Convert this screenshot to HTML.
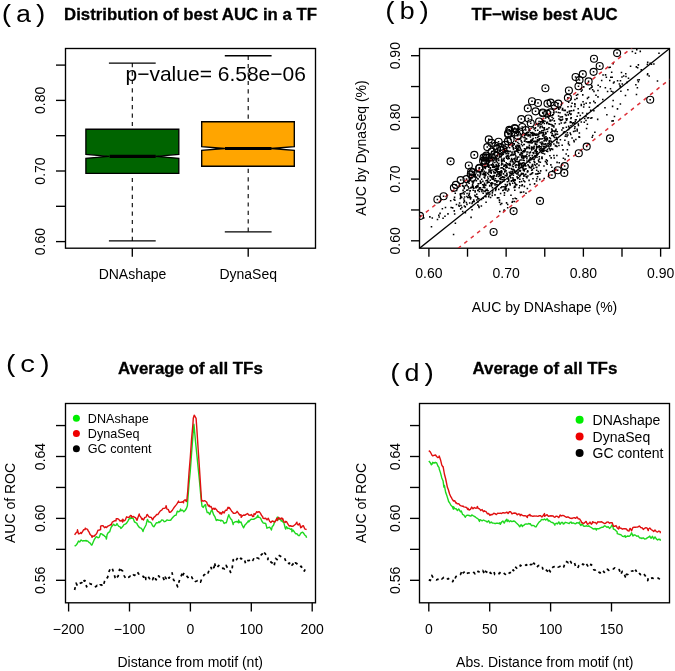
<!DOCTYPE html>
<html><head><meta charset="utf-8"><style>html,body{margin:0;padding:0;background:#fff;}svg{display:block;will-change:transform;}</style></head>
<body><svg width="675" height="671" viewBox="0 0 675 671">
<rect width="675" height="671" fill="#fff"/>
<rect x="65.5" y="48.5" width="250.0" height="199.7" fill="none" stroke="#000" stroke-width="1.35"/>
<line x1="56.00" y1="241.60" x2="65.50" y2="241.60" stroke="#000" stroke-width="1.35"/>
<line x1="56.00" y1="206.30" x2="65.50" y2="206.30" stroke="#000" stroke-width="1.35"/>
<line x1="56.00" y1="171.00" x2="65.50" y2="171.00" stroke="#000" stroke-width="1.35"/>
<line x1="56.00" y1="135.70" x2="65.50" y2="135.70" stroke="#000" stroke-width="1.35"/>
<line x1="56.00" y1="100.40" x2="65.50" y2="100.40" stroke="#000" stroke-width="1.35"/>
<line x1="56.00" y1="65.10" x2="65.50" y2="65.10" stroke="#000" stroke-width="1.35"/>
<text x="0" y="0" transform="translate(45.40,241.60) rotate(-90)" font-size="14" font-weight="normal" text-anchor="middle" font-family='"Liberation Sans", sans-serif' fill="#000">0.60</text>
<text x="0" y="0" transform="translate(45.40,171.00) rotate(-90)" font-size="14" font-weight="normal" text-anchor="middle" font-family='"Liberation Sans", sans-serif' fill="#000">0.70</text>
<text x="0" y="0" transform="translate(45.40,100.40) rotate(-90)" font-size="14" font-weight="normal" text-anchor="middle" font-family='"Liberation Sans", sans-serif' fill="#000">0.80</text>
<line x1="132.30" y1="248.00" x2="132.30" y2="256.70" stroke="#000" stroke-width="1.35"/>
<line x1="248.20" y1="248.00" x2="248.20" y2="256.70" stroke="#000" stroke-width="1.35"/>
<text x="132.50" y="278.60" font-size="14" font-weight="normal" text-anchor="middle" font-family='"Liberation Sans", sans-serif' fill="#000">DNAshape</text>
<text x="248.20" y="278.60" font-size="14" font-weight="normal" text-anchor="middle" font-family='"Liberation Sans", sans-serif' fill="#000">DynaSeq</text>
<line x1="132.30" y1="63.10" x2="132.30" y2="129.20" stroke="#000" stroke-width="1.1" stroke-dasharray="4.2 4.2"/>
<line x1="132.30" y1="240.90" x2="132.30" y2="173.30" stroke="#000" stroke-width="1.1" stroke-dasharray="4.2 4.2"/>
<line x1="108.90" y1="63.10" x2="155.70" y2="63.10" stroke="#000" stroke-width="1.35"/>
<line x1="108.90" y1="240.90" x2="155.70" y2="240.90" stroke="#000" stroke-width="1.35"/>
<polygon points="85.90,173.30 85.90,158.25 109.10,156.30 85.90,154.35 85.90,129.20 178.80,129.20 178.80,154.35 155.60,156.30 178.80,158.25 178.80,173.30" fill="#006400" stroke="#000" stroke-width="1.35"/>
<line x1="109.60" y1="156.30" x2="155.70" y2="156.30" stroke="#000" stroke-width="3.2"/>
<line x1="248.20" y1="55.70" x2="248.20" y2="121.70" stroke="#000" stroke-width="1.1" stroke-dasharray="4.2 4.2"/>
<line x1="248.20" y1="231.80" x2="248.20" y2="166.20" stroke="#000" stroke-width="1.1" stroke-dasharray="4.2 4.2"/>
<line x1="224.80" y1="55.70" x2="271.60" y2="55.70" stroke="#000" stroke-width="1.35"/>
<line x1="224.80" y1="231.80" x2="271.60" y2="231.80" stroke="#000" stroke-width="1.35"/>
<polygon points="201.70,166.20 201.70,150.45 224.90,148.50 201.70,146.55 201.70,121.70 294.30,121.70 294.30,146.55 271.10,148.50 294.30,150.45 294.30,166.20" fill="#FFA500" stroke="#000" stroke-width="1.35"/>
<line x1="225.00" y1="148.50" x2="271.50" y2="148.50" stroke="#000" stroke-width="3.2"/>
<text x="190.50" y="20.00" font-size="16.8" font-weight="bold" text-anchor="middle" font-family='"Liberation Sans", sans-serif' fill="#000" stroke="#000" stroke-width="0.3">Distribution of best AUC in a TF</text>
<text x="125.50" y="81.00" font-size="21" font-weight="normal" text-anchor="start" font-family='"Liberation Sans", sans-serif' fill="#000">p−value= 6.58e−06</text>
<text x="0" y="0" transform="translate(-0.90,22.30) scale(1.03,0.92)" font-size="26.5" font-family='"Liberation Mono", monospace' fill="#000">(a)</text>
<rect x="419.5" y="48.5" width="250.0" height="199.7" fill="none" stroke="#000" stroke-width="1.35"/>
<line x1="428.90" y1="248.00" x2="428.90" y2="256.70" stroke="#000" stroke-width="1.35"/>
<line x1="411.00" y1="240.80" x2="419.50" y2="240.80" stroke="#000" stroke-width="1.35"/>
<line x1="467.52" y1="248.00" x2="467.52" y2="256.70" stroke="#000" stroke-width="1.35"/>
<line x1="411.00" y1="209.95" x2="419.50" y2="209.95" stroke="#000" stroke-width="1.35"/>
<line x1="506.14" y1="248.00" x2="506.14" y2="256.70" stroke="#000" stroke-width="1.35"/>
<line x1="411.00" y1="179.10" x2="419.50" y2="179.10" stroke="#000" stroke-width="1.35"/>
<line x1="544.76" y1="248.00" x2="544.76" y2="256.70" stroke="#000" stroke-width="1.35"/>
<line x1="411.00" y1="148.25" x2="419.50" y2="148.25" stroke="#000" stroke-width="1.35"/>
<line x1="583.38" y1="248.00" x2="583.38" y2="256.70" stroke="#000" stroke-width="1.35"/>
<line x1="411.00" y1="117.40" x2="419.50" y2="117.40" stroke="#000" stroke-width="1.35"/>
<line x1="622.00" y1="248.00" x2="622.00" y2="256.70" stroke="#000" stroke-width="1.35"/>
<line x1="411.00" y1="86.55" x2="419.50" y2="86.55" stroke="#000" stroke-width="1.35"/>
<line x1="660.62" y1="248.00" x2="660.62" y2="256.70" stroke="#000" stroke-width="1.35"/>
<line x1="411.00" y1="55.70" x2="419.50" y2="55.70" stroke="#000" stroke-width="1.35"/>
<text x="428.90" y="278.20" font-size="14" font-weight="normal" text-anchor="middle" font-family='"Liberation Sans", sans-serif' fill="#000">0.60</text>
<text x="0" y="0" transform="translate(400.30,240.80) rotate(-90)" font-size="14" font-weight="normal" text-anchor="middle" font-family='"Liberation Sans", sans-serif' fill="#000">0.60</text>
<text x="506.14" y="278.20" font-size="14" font-weight="normal" text-anchor="middle" font-family='"Liberation Sans", sans-serif' fill="#000">0.70</text>
<text x="0" y="0" transform="translate(400.30,179.10) rotate(-90)" font-size="14" font-weight="normal" text-anchor="middle" font-family='"Liberation Sans", sans-serif' fill="#000">0.70</text>
<text x="583.38" y="278.20" font-size="14" font-weight="normal" text-anchor="middle" font-family='"Liberation Sans", sans-serif' fill="#000">0.80</text>
<text x="0" y="0" transform="translate(400.30,117.40) rotate(-90)" font-size="14" font-weight="normal" text-anchor="middle" font-family='"Liberation Sans", sans-serif' fill="#000">0.80</text>
<text x="660.62" y="278.20" font-size="14" font-weight="normal" text-anchor="middle" font-family='"Liberation Sans", sans-serif' fill="#000">0.90</text>
<text x="0" y="0" transform="translate(400.30,55.70) rotate(-90)" font-size="14" font-weight="normal" text-anchor="middle" font-family='"Liberation Sans", sans-serif' fill="#000">0.90</text>
<text x="544.50" y="312.20" font-size="14" font-weight="normal" text-anchor="middle" font-family='"Liberation Sans", sans-serif' fill="#000">AUC by DNAshape (%)</text>
<text x="0" y="0" transform="translate(366.00,148.00) rotate(-90)" font-size="14" font-weight="normal" text-anchor="middle" font-family='"Liberation Sans", sans-serif' fill="#000">AUC by DynaSeq (%)</text>
<text x="544.50" y="19.60" font-size="16.8" font-weight="bold" text-anchor="middle" font-family='"Liberation Sans", sans-serif' fill="#000" stroke="#000" stroke-width="0.3">TF−wise best AUC</text>
<text x="0" y="0" transform="translate(382.60,19.20) scale(1.03,0.92)" font-size="26.5" font-family='"Liberation Mono", monospace' fill="#000">(b)</text>
<defs><clipPath id="cb"><rect x="419.5" y="48.5" width="250" height="199.5"/></clipPath></defs>
<g clip-path="url(#cb)">
<path d="M552.8 134.7h1.55v1.55h-1.55zM511.0 180.0h1.55v1.55h-1.55zM506.5 163.1h1.55v1.55h-1.55zM531.4 139.4h1.55v1.55h-1.55zM500.7 170.1h1.55v1.55h-1.55zM483.0 184.4h1.55v1.55h-1.55zM485.3 201.4h1.55v1.55h-1.55zM493.4 166.5h1.55v1.55h-1.55zM477.0 204.2h1.55v1.55h-1.55zM585.4 102.5h1.55v1.55h-1.55zM510.5 180.2h1.55v1.55h-1.55zM585.2 119.7h1.55v1.55h-1.55zM497.7 171.0h1.55v1.55h-1.55zM523.2 151.1h1.55v1.55h-1.55zM497.2 165.3h1.55v1.55h-1.55zM531.6 131.8h1.55v1.55h-1.55zM482.1 173.4h1.55v1.55h-1.55zM535.6 144.0h1.55v1.55h-1.55zM577.5 123.2h1.55v1.55h-1.55zM520.4 152.1h1.55v1.55h-1.55zM508.3 167.4h1.55v1.55h-1.55zM502.8 173.3h1.55v1.55h-1.55zM567.6 155.1h1.55v1.55h-1.55zM640.5 69.1h1.55v1.55h-1.55zM553.8 136.8h1.55v1.55h-1.55zM555.1 130.1h1.55v1.55h-1.55zM492.8 170.8h1.55v1.55h-1.55zM546.0 122.7h1.55v1.55h-1.55zM553.0 135.8h1.55v1.55h-1.55zM520.7 143.4h1.55v1.55h-1.55zM528.3 179.6h1.55v1.55h-1.55zM591.1 116.9h1.55v1.55h-1.55zM569.4 132.3h1.55v1.55h-1.55zM548.8 123.5h1.55v1.55h-1.55zM516.4 144.6h1.55v1.55h-1.55zM498.5 172.7h1.55v1.55h-1.55zM495.3 165.2h1.55v1.55h-1.55zM541.8 134.4h1.55v1.55h-1.55zM515.0 160.8h1.55v1.55h-1.55zM492.1 166.3h1.55v1.55h-1.55zM539.1 172.4h1.55v1.55h-1.55zM574.2 98.8h1.55v1.55h-1.55zM562.6 127.2h1.55v1.55h-1.55zM608.2 66.8h1.55v1.55h-1.55zM519.7 169.7h1.55v1.55h-1.55zM541.7 137.9h1.55v1.55h-1.55zM526.2 160.3h1.55v1.55h-1.55zM602.0 98.8h1.55v1.55h-1.55zM491.0 183.0h1.55v1.55h-1.55zM506.3 184.8h1.55v1.55h-1.55zM531.3 157.8h1.55v1.55h-1.55zM552.6 130.2h1.55v1.55h-1.55zM508.2 155.4h1.55v1.55h-1.55zM517.7 177.0h1.55v1.55h-1.55zM596.9 105.2h1.55v1.55h-1.55zM538.7 148.6h1.55v1.55h-1.55zM468.4 193.5h1.55v1.55h-1.55zM481.1 169.1h1.55v1.55h-1.55zM529.1 158.2h1.55v1.55h-1.55zM580.5 90.5h1.55v1.55h-1.55zM491.1 164.5h1.55v1.55h-1.55zM540.7 147.3h1.55v1.55h-1.55zM487.2 163.3h1.55v1.55h-1.55zM491.5 194.6h1.55v1.55h-1.55zM498.9 171.2h1.55v1.55h-1.55zM470.3 216.6h1.55v1.55h-1.55zM542.0 142.4h1.55v1.55h-1.55zM498.6 199.2h1.55v1.55h-1.55zM498.8 201.4h1.55v1.55h-1.55zM537.5 133.8h1.55v1.55h-1.55zM512.2 179.3h1.55v1.55h-1.55zM548.4 147.5h1.55v1.55h-1.55zM577.8 112.1h1.55v1.55h-1.55zM489.5 179.5h1.55v1.55h-1.55zM519.0 154.0h1.55v1.55h-1.55zM589.2 102.1h1.55v1.55h-1.55zM505.8 202.1h1.55v1.55h-1.55zM506.0 175.3h1.55v1.55h-1.55zM481.6 189.0h1.55v1.55h-1.55zM545.3 132.5h1.55v1.55h-1.55zM519.7 154.3h1.55v1.55h-1.55zM491.3 169.2h1.55v1.55h-1.55zM531.9 158.3h1.55v1.55h-1.55zM493.3 172.2h1.55v1.55h-1.55zM520.4 140.1h1.55v1.55h-1.55zM429.1 216.1h1.55v1.55h-1.55zM522.6 172.7h1.55v1.55h-1.55zM523.6 185.6h1.55v1.55h-1.55zM544.8 131.8h1.55v1.55h-1.55zM516.4 156.5h1.55v1.55h-1.55zM563.7 122.3h1.55v1.55h-1.55zM522.3 159.4h1.55v1.55h-1.55zM537.3 125.3h1.55v1.55h-1.55zM536.8 145.9h1.55v1.55h-1.55zM472.4 189.5h1.55v1.55h-1.55zM577.7 124.8h1.55v1.55h-1.55zM533.9 155.3h1.55v1.55h-1.55zM520.8 172.6h1.55v1.55h-1.55zM502.6 172.9h1.55v1.55h-1.55zM460.5 192.9h1.55v1.55h-1.55zM508.0 189.0h1.55v1.55h-1.55zM552.8 111.8h1.55v1.55h-1.55zM503.8 176.5h1.55v1.55h-1.55zM531.4 142.0h1.55v1.55h-1.55zM514.4 159.8h1.55v1.55h-1.55zM519.0 146.2h1.55v1.55h-1.55zM495.0 168.2h1.55v1.55h-1.55zM529.2 183.7h1.55v1.55h-1.55zM539.3 126.9h1.55v1.55h-1.55zM483.8 182.6h1.55v1.55h-1.55zM465.6 201.7h1.55v1.55h-1.55zM611.8 105.6h1.55v1.55h-1.55zM586.2 112.8h1.55v1.55h-1.55zM518.0 163.5h1.55v1.55h-1.55zM578.8 136.4h1.55v1.55h-1.55zM490.2 169.8h1.55v1.55h-1.55zM447.2 213.1h1.55v1.55h-1.55zM556.8 133.5h1.55v1.55h-1.55zM549.1 154.9h1.55v1.55h-1.55zM538.2 132.2h1.55v1.55h-1.55zM597.4 84.4h1.55v1.55h-1.55zM512.5 166.0h1.55v1.55h-1.55zM529.6 141.9h1.55v1.55h-1.55zM553.1 126.3h1.55v1.55h-1.55zM523.9 133.6h1.55v1.55h-1.55zM501.4 160.1h1.55v1.55h-1.55zM467.0 196.7h1.55v1.55h-1.55zM517.3 172.1h1.55v1.55h-1.55zM496.5 185.4h1.55v1.55h-1.55zM498.8 199.4h1.55v1.55h-1.55zM512.5 178.6h1.55v1.55h-1.55zM556.5 130.9h1.55v1.55h-1.55zM533.5 147.3h1.55v1.55h-1.55zM538.1 161.0h1.55v1.55h-1.55zM542.3 119.9h1.55v1.55h-1.55zM538.5 172.5h1.55v1.55h-1.55zM494.2 194.1h1.55v1.55h-1.55zM482.3 168.7h1.55v1.55h-1.55zM493.9 179.9h1.55v1.55h-1.55zM556.2 141.9h1.55v1.55h-1.55zM533.4 158.4h1.55v1.55h-1.55zM499.8 192.7h1.55v1.55h-1.55zM561.1 129.2h1.55v1.55h-1.55zM534.8 140.5h1.55v1.55h-1.55zM558.2 144.7h1.55v1.55h-1.55zM461.1 206.7h1.55v1.55h-1.55zM538.6 158.3h1.55v1.55h-1.55zM532.2 165.3h1.55v1.55h-1.55zM497.5 171.0h1.55v1.55h-1.55zM461.8 182.7h1.55v1.55h-1.55zM512.1 176.9h1.55v1.55h-1.55zM512.3 161.2h1.55v1.55h-1.55zM536.1 163.2h1.55v1.55h-1.55zM517.1 171.2h1.55v1.55h-1.55zM507.7 178.0h1.55v1.55h-1.55zM495.8 160.2h1.55v1.55h-1.55zM526.2 153.4h1.55v1.55h-1.55zM500.3 174.3h1.55v1.55h-1.55zM550.1 131.8h1.55v1.55h-1.55zM522.3 177.9h1.55v1.55h-1.55zM514.4 197.4h1.55v1.55h-1.55zM546.5 137.3h1.55v1.55h-1.55zM512.7 178.4h1.55v1.55h-1.55zM470.0 187.3h1.55v1.55h-1.55zM525.9 147.6h1.55v1.55h-1.55zM511.3 151.2h1.55v1.55h-1.55zM559.7 119.8h1.55v1.55h-1.55zM556.4 138.9h1.55v1.55h-1.55zM593.2 90.6h1.55v1.55h-1.55zM475.8 176.4h1.55v1.55h-1.55zM542.6 133.1h1.55v1.55h-1.55zM541.2 141.2h1.55v1.55h-1.55zM556.1 154.7h1.55v1.55h-1.55zM518.6 160.3h1.55v1.55h-1.55zM510.6 154.1h1.55v1.55h-1.55zM544.8 117.3h1.55v1.55h-1.55zM479.6 174.1h1.55v1.55h-1.55zM544.0 129.0h1.55v1.55h-1.55zM528.6 166.7h1.55v1.55h-1.55zM564.8 121.4h1.55v1.55h-1.55zM468.0 194.7h1.55v1.55h-1.55zM503.4 209.2h1.55v1.55h-1.55zM540.2 132.2h1.55v1.55h-1.55zM539.5 125.8h1.55v1.55h-1.55zM518.1 146.1h1.55v1.55h-1.55zM612.4 62.9h1.55v1.55h-1.55zM527.3 134.6h1.55v1.55h-1.55zM519.9 138.0h1.55v1.55h-1.55zM533.4 145.4h1.55v1.55h-1.55zM597.2 96.1h1.55v1.55h-1.55zM499.1 174.3h1.55v1.55h-1.55zM495.8 158.4h1.55v1.55h-1.55zM501.0 163.1h1.55v1.55h-1.55zM531.5 154.8h1.55v1.55h-1.55zM464.2 191.0h1.55v1.55h-1.55zM568.8 112.5h1.55v1.55h-1.55zM543.2 143.5h1.55v1.55h-1.55zM525.4 133.6h1.55v1.55h-1.55zM625.0 73.0h1.55v1.55h-1.55zM554.0 131.0h1.55v1.55h-1.55zM482.9 173.9h1.55v1.55h-1.55zM485.2 196.0h1.55v1.55h-1.55zM504.4 169.3h1.55v1.55h-1.55zM534.2 150.1h1.55v1.55h-1.55zM575.4 119.0h1.55v1.55h-1.55zM545.3 135.9h1.55v1.55h-1.55zM525.2 154.9h1.55v1.55h-1.55zM486.3 189.7h1.55v1.55h-1.55zM575.6 94.5h1.55v1.55h-1.55zM535.3 152.4h1.55v1.55h-1.55zM557.8 115.3h1.55v1.55h-1.55zM477.0 174.2h1.55v1.55h-1.55zM467.9 180.5h1.55v1.55h-1.55zM484.3 172.2h1.55v1.55h-1.55zM474.3 189.9h1.55v1.55h-1.55zM463.6 205.2h1.55v1.55h-1.55zM510.0 161.0h1.55v1.55h-1.55zM491.6 192.1h1.55v1.55h-1.55zM535.5 148.7h1.55v1.55h-1.55zM509.1 174.4h1.55v1.55h-1.55zM549.4 119.2h1.55v1.55h-1.55zM508.5 157.8h1.55v1.55h-1.55zM514.5 157.3h1.55v1.55h-1.55zM519.0 175.6h1.55v1.55h-1.55zM570.1 117.6h1.55v1.55h-1.55zM532.3 132.2h1.55v1.55h-1.55zM488.3 161.7h1.55v1.55h-1.55zM543.6 146.3h1.55v1.55h-1.55zM478.6 190.7h1.55v1.55h-1.55zM465.7 183.3h1.55v1.55h-1.55zM473.3 175.5h1.55v1.55h-1.55zM506.4 155.2h1.55v1.55h-1.55zM451.9 207.1h1.55v1.55h-1.55zM512.6 153.6h1.55v1.55h-1.55zM658.2 52.4h1.55v1.55h-1.55zM504.5 183.7h1.55v1.55h-1.55zM530.2 158.9h1.55v1.55h-1.55zM519.7 191.6h1.55v1.55h-1.55zM518.4 149.4h1.55v1.55h-1.55zM534.5 143.0h1.55v1.55h-1.55zM558.2 118.2h1.55v1.55h-1.55zM489.3 175.6h1.55v1.55h-1.55zM525.3 175.8h1.55v1.55h-1.55zM523.1 174.8h1.55v1.55h-1.55zM514.7 160.5h1.55v1.55h-1.55zM522.8 164.5h1.55v1.55h-1.55zM505.1 166.9h1.55v1.55h-1.55zM576.4 130.1h1.55v1.55h-1.55zM502.6 153.5h1.55v1.55h-1.55zM499.7 170.9h1.55v1.55h-1.55zM500.1 178.8h1.55v1.55h-1.55zM478.7 187.1h1.55v1.55h-1.55zM477.1 197.7h1.55v1.55h-1.55zM574.0 103.0h1.55v1.55h-1.55zM463.5 187.8h1.55v1.55h-1.55zM458.1 204.5h1.55v1.55h-1.55zM484.9 166.1h1.55v1.55h-1.55zM541.1 149.7h1.55v1.55h-1.55zM528.7 134.6h1.55v1.55h-1.55zM586.7 97.6h1.55v1.55h-1.55zM510.2 194.5h1.55v1.55h-1.55zM480.9 178.4h1.55v1.55h-1.55zM527.7 133.8h1.55v1.55h-1.55zM550.9 128.2h1.55v1.55h-1.55zM500.7 171.6h1.55v1.55h-1.55zM571.7 123.2h1.55v1.55h-1.55zM528.3 146.2h1.55v1.55h-1.55zM472.4 186.6h1.55v1.55h-1.55zM499.0 175.3h1.55v1.55h-1.55zM497.7 168.5h1.55v1.55h-1.55zM530.8 132.8h1.55v1.55h-1.55zM543.6 137.5h1.55v1.55h-1.55zM548.1 145.7h1.55v1.55h-1.55zM536.7 141.3h1.55v1.55h-1.55zM470.6 206.0h1.55v1.55h-1.55zM569.8 113.8h1.55v1.55h-1.55zM543.2 145.4h1.55v1.55h-1.55zM484.1 173.2h1.55v1.55h-1.55zM546.5 160.1h1.55v1.55h-1.55zM513.0 180.5h1.55v1.55h-1.55zM536.0 166.6h1.55v1.55h-1.55zM529.6 134.2h1.55v1.55h-1.55zM555.2 128.4h1.55v1.55h-1.55zM471.1 186.6h1.55v1.55h-1.55zM508.6 171.4h1.55v1.55h-1.55zM525.4 134.2h1.55v1.55h-1.55zM538.3 146.6h1.55v1.55h-1.55zM612.4 120.1h1.55v1.55h-1.55zM469.9 177.5h1.55v1.55h-1.55zM519.3 146.9h1.55v1.55h-1.55zM479.1 171.9h1.55v1.55h-1.55zM492.9 178.7h1.55v1.55h-1.55zM637.6 81.0h1.55v1.55h-1.55zM501.1 186.1h1.55v1.55h-1.55zM539.0 131.0h1.55v1.55h-1.55zM518.8 145.1h1.55v1.55h-1.55zM487.5 178.0h1.55v1.55h-1.55zM522.6 169.4h1.55v1.55h-1.55zM523.1 143.8h1.55v1.55h-1.55zM528.6 140.9h1.55v1.55h-1.55zM564.5 113.8h1.55v1.55h-1.55zM541.6 150.5h1.55v1.55h-1.55zM538.2 139.7h1.55v1.55h-1.55zM594.1 131.4h1.55v1.55h-1.55zM472.8 180.9h1.55v1.55h-1.55zM505.3 170.1h1.55v1.55h-1.55zM489.8 196.7h1.55v1.55h-1.55zM476.7 196.2h1.55v1.55h-1.55zM498.0 159.6h1.55v1.55h-1.55zM552.8 135.5h1.55v1.55h-1.55zM523.5 170.1h1.55v1.55h-1.55zM529.7 131.9h1.55v1.55h-1.55zM558.5 162.0h1.55v1.55h-1.55zM539.9 146.0h1.55v1.55h-1.55zM515.1 184.1h1.55v1.55h-1.55zM501.9 176.1h1.55v1.55h-1.55zM503.0 180.5h1.55v1.55h-1.55zM649.4 62.5h1.55v1.55h-1.55zM580.5 121.3h1.55v1.55h-1.55zM537.0 153.4h1.55v1.55h-1.55zM500.2 172.0h1.55v1.55h-1.55zM528.7 152.3h1.55v1.55h-1.55zM551.7 134.4h1.55v1.55h-1.55zM439.3 212.6h1.55v1.55h-1.55zM523.7 147.9h1.55v1.55h-1.55zM507.0 150.1h1.55v1.55h-1.55zM551.4 125.1h1.55v1.55h-1.55zM495.8 165.6h1.55v1.55h-1.55zM517.1 160.9h1.55v1.55h-1.55zM571.8 122.4h1.55v1.55h-1.55zM494.8 169.8h1.55v1.55h-1.55zM531.7 139.2h1.55v1.55h-1.55zM518.1 161.9h1.55v1.55h-1.55zM579.1 118.5h1.55v1.55h-1.55zM524.3 164.8h1.55v1.55h-1.55zM506.9 206.9h1.55v1.55h-1.55zM477.4 183.1h1.55v1.55h-1.55zM567.6 143.0h1.55v1.55h-1.55zM559.3 118.7h1.55v1.55h-1.55zM595.2 94.5h1.55v1.55h-1.55zM492.6 175.3h1.55v1.55h-1.55zM635.1 84.0h1.55v1.55h-1.55zM488.9 185.3h1.55v1.55h-1.55zM517.3 148.8h1.55v1.55h-1.55zM519.3 170.5h1.55v1.55h-1.55zM500.8 159.6h1.55v1.55h-1.55zM498.9 177.9h1.55v1.55h-1.55zM531.7 156.8h1.55v1.55h-1.55zM476.1 199.2h1.55v1.55h-1.55zM438.4 216.2h1.55v1.55h-1.55zM638.5 78.9h1.55v1.55h-1.55zM520.7 155.7h1.55v1.55h-1.55zM612.4 99.7h1.55v1.55h-1.55zM549.8 120.1h1.55v1.55h-1.55zM519.0 138.4h1.55v1.55h-1.55zM517.0 141.8h1.55v1.55h-1.55zM549.0 142.3h1.55v1.55h-1.55zM483.1 190.2h1.55v1.55h-1.55zM540.0 121.1h1.55v1.55h-1.55zM477.0 189.7h1.55v1.55h-1.55zM529.6 136.2h1.55v1.55h-1.55zM516.4 158.1h1.55v1.55h-1.55zM503.6 194.4h1.55v1.55h-1.55zM505.9 157.5h1.55v1.55h-1.55zM493.5 174.7h1.55v1.55h-1.55zM475.1 186.0h1.55v1.55h-1.55zM523.8 134.9h1.55v1.55h-1.55zM549.4 115.0h1.55v1.55h-1.55zM510.9 179.9h1.55v1.55h-1.55zM546.6 143.3h1.55v1.55h-1.55zM626.3 81.6h1.55v1.55h-1.55zM550.2 123.7h1.55v1.55h-1.55zM573.7 122.6h1.55v1.55h-1.55zM486.9 164.8h1.55v1.55h-1.55zM554.2 130.3h1.55v1.55h-1.55zM518.1 142.9h1.55v1.55h-1.55zM548.2 127.0h1.55v1.55h-1.55zM517.3 147.4h1.55v1.55h-1.55zM599.5 86.0h1.55v1.55h-1.55zM604.6 86.9h1.55v1.55h-1.55zM495.3 188.3h1.55v1.55h-1.55zM557.9 107.1h1.55v1.55h-1.55zM470.5 186.6h1.55v1.55h-1.55zM509.3 163.5h1.55v1.55h-1.55zM484.0 173.9h1.55v1.55h-1.55zM548.1 117.7h1.55v1.55h-1.55zM537.5 170.7h1.55v1.55h-1.55zM514.5 147.5h1.55v1.55h-1.55zM430.7 226.0h1.55v1.55h-1.55zM554.4 123.0h1.55v1.55h-1.55zM541.3 142.5h1.55v1.55h-1.55zM548.1 123.1h1.55v1.55h-1.55zM596.9 118.6h1.55v1.55h-1.55zM552.0 113.9h1.55v1.55h-1.55zM529.2 161.8h1.55v1.55h-1.55zM542.7 150.5h1.55v1.55h-1.55zM486.3 182.3h1.55v1.55h-1.55zM656.7 80.2h1.55v1.55h-1.55zM511.3 144.6h1.55v1.55h-1.55zM495.8 186.3h1.55v1.55h-1.55zM553.1 154.8h1.55v1.55h-1.55zM532.4 134.6h1.55v1.55h-1.55zM534.3 133.2h1.55v1.55h-1.55zM514.1 151.6h1.55v1.55h-1.55zM627.7 77.4h1.55v1.55h-1.55zM555.0 168.5h1.55v1.55h-1.55zM492.2 158.1h1.55v1.55h-1.55zM542.1 135.1h1.55v1.55h-1.55zM534.4 157.0h1.55v1.55h-1.55zM582.0 94.1h1.55v1.55h-1.55zM502.8 168.4h1.55v1.55h-1.55zM477.2 201.3h1.55v1.55h-1.55zM482.4 186.7h1.55v1.55h-1.55zM513.5 142.9h1.55v1.55h-1.55zM514.8 183.2h1.55v1.55h-1.55zM556.1 141.0h1.55v1.55h-1.55zM502.0 189.8h1.55v1.55h-1.55zM505.3 153.0h1.55v1.55h-1.55zM538.1 135.5h1.55v1.55h-1.55zM492.4 175.2h1.55v1.55h-1.55zM483.6 183.7h1.55v1.55h-1.55zM517.7 174.3h1.55v1.55h-1.55zM530.6 172.9h1.55v1.55h-1.55zM500.4 156.0h1.55v1.55h-1.55zM619.3 85.1h1.55v1.55h-1.55zM496.3 165.7h1.55v1.55h-1.55zM523.0 179.9h1.55v1.55h-1.55zM530.9 142.3h1.55v1.55h-1.55zM551.1 166.4h1.55v1.55h-1.55zM549.5 149.6h1.55v1.55h-1.55zM519.5 174.5h1.55v1.55h-1.55zM518.3 165.1h1.55v1.55h-1.55zM567.8 128.8h1.55v1.55h-1.55zM526.9 151.3h1.55v1.55h-1.55zM477.3 189.6h1.55v1.55h-1.55zM604.2 106.9h1.55v1.55h-1.55zM512.3 168.6h1.55v1.55h-1.55zM472.9 187.4h1.55v1.55h-1.55zM610.0 76.4h1.55v1.55h-1.55zM557.9 142.2h1.55v1.55h-1.55zM513.3 162.6h1.55v1.55h-1.55zM530.8 173.3h1.55v1.55h-1.55zM590.4 87.0h1.55v1.55h-1.55zM478.9 176.1h1.55v1.55h-1.55zM467.0 180.2h1.55v1.55h-1.55zM511.5 159.1h1.55v1.55h-1.55zM555.2 145.0h1.55v1.55h-1.55zM605.6 76.4h1.55v1.55h-1.55zM463.4 193.3h1.55v1.55h-1.55zM511.2 152.2h1.55v1.55h-1.55zM520.8 153.2h1.55v1.55h-1.55zM561.4 144.5h1.55v1.55h-1.55zM537.0 129.5h1.55v1.55h-1.55zM505.9 165.1h1.55v1.55h-1.55zM483.3 166.8h1.55v1.55h-1.55zM524.6 137.3h1.55v1.55h-1.55zM501.8 167.3h1.55v1.55h-1.55zM477.1 185.1h1.55v1.55h-1.55zM471.9 201.1h1.55v1.55h-1.55zM538.4 138.7h1.55v1.55h-1.55zM567.7 141.3h1.55v1.55h-1.55zM549.8 145.1h1.55v1.55h-1.55zM544.7 143.1h1.55v1.55h-1.55zM504.0 186.2h1.55v1.55h-1.55zM463.7 200.5h1.55v1.55h-1.55zM501.1 166.9h1.55v1.55h-1.55zM504.6 164.1h1.55v1.55h-1.55zM528.0 160.8h1.55v1.55h-1.55zM463.0 201.8h1.55v1.55h-1.55zM497.7 173.2h1.55v1.55h-1.55zM545.4 144.7h1.55v1.55h-1.55zM646.9 72.9h1.55v1.55h-1.55zM567.9 125.6h1.55v1.55h-1.55zM516.2 160.7h1.55v1.55h-1.55zM552.1 125.0h1.55v1.55h-1.55zM489.6 174.9h1.55v1.55h-1.55zM515.6 198.0h1.55v1.55h-1.55zM512.4 168.7h1.55v1.55h-1.55zM530.4 139.2h1.55v1.55h-1.55zM500.7 164.2h1.55v1.55h-1.55zM499.5 181.1h1.55v1.55h-1.55zM604.8 74.1h1.55v1.55h-1.55zM573.4 141.0h1.55v1.55h-1.55zM492.9 176.2h1.55v1.55h-1.55zM509.7 160.8h1.55v1.55h-1.55zM531.5 172.2h1.55v1.55h-1.55zM511.9 182.4h1.55v1.55h-1.55zM499.1 171.0h1.55v1.55h-1.55zM564.1 139.4h1.55v1.55h-1.55zM500.9 161.1h1.55v1.55h-1.55zM547.6 142.6h1.55v1.55h-1.55zM528.2 129.4h1.55v1.55h-1.55zM543.6 134.2h1.55v1.55h-1.55zM593.0 100.6h1.55v1.55h-1.55zM524.4 149.8h1.55v1.55h-1.55zM534.9 136.9h1.55v1.55h-1.55zM438.0 214.5h1.55v1.55h-1.55zM504.3 165.1h1.55v1.55h-1.55zM535.3 155.3h1.55v1.55h-1.55zM461.8 185.0h1.55v1.55h-1.55zM574.4 130.2h1.55v1.55h-1.55zM583.5 121.4h1.55v1.55h-1.55zM648.4 75.2h1.55v1.55h-1.55zM514.0 159.0h1.55v1.55h-1.55zM527.7 164.9h1.55v1.55h-1.55zM453.9 213.2h1.55v1.55h-1.55zM468.3 182.5h1.55v1.55h-1.55zM490.0 182.6h1.55v1.55h-1.55zM550.6 140.5h1.55v1.55h-1.55zM583.3 103.6h1.55v1.55h-1.55zM512.6 174.4h1.55v1.55h-1.55zM473.7 179.8h1.55v1.55h-1.55zM530.7 127.5h1.55v1.55h-1.55zM499.7 153.1h1.55v1.55h-1.55zM527.1 175.2h1.55v1.55h-1.55zM491.0 177.0h1.55v1.55h-1.55zM471.1 177.1h1.55v1.55h-1.55zM497.8 159.3h1.55v1.55h-1.55zM526.2 146.3h1.55v1.55h-1.55zM520.8 135.5h1.55v1.55h-1.55zM587.8 116.9h1.55v1.55h-1.55zM620.7 71.7h1.55v1.55h-1.55zM569.3 110.3h1.55v1.55h-1.55zM571.3 137.3h1.55v1.55h-1.55zM653.1 63.3h1.55v1.55h-1.55zM565.8 119.4h1.55v1.55h-1.55zM564.3 158.6h1.55v1.55h-1.55zM523.0 157.5h1.55v1.55h-1.55zM488.0 166.4h1.55v1.55h-1.55zM506.8 190.2h1.55v1.55h-1.55zM528.6 166.0h1.55v1.55h-1.55zM501.2 154.3h1.55v1.55h-1.55zM514.4 179.1h1.55v1.55h-1.55zM590.9 84.7h1.55v1.55h-1.55zM531.7 138.4h1.55v1.55h-1.55zM525.7 132.1h1.55v1.55h-1.55zM514.2 153.7h1.55v1.55h-1.55zM536.3 146.8h1.55v1.55h-1.55zM474.7 195.4h1.55v1.55h-1.55zM541.0 157.2h1.55v1.55h-1.55zM472.3 182.3h1.55v1.55h-1.55zM520.4 159.3h1.55v1.55h-1.55zM533.8 134.2h1.55v1.55h-1.55zM538.4 145.1h1.55v1.55h-1.55zM635.6 66.1h1.55v1.55h-1.55zM545.4 138.1h1.55v1.55h-1.55zM554.6 144.8h1.55v1.55h-1.55zM484.7 184.6h1.55v1.55h-1.55zM530.5 147.7h1.55v1.55h-1.55zM553.8 130.4h1.55v1.55h-1.55zM566.2 135.6h1.55v1.55h-1.55zM519.6 138.0h1.55v1.55h-1.55zM496.8 172.3h1.55v1.55h-1.55zM636.9 67.0h1.55v1.55h-1.55zM548.3 140.2h1.55v1.55h-1.55zM535.2 150.8h1.55v1.55h-1.55zM500.2 172.6h1.55v1.55h-1.55zM535.9 140.7h1.55v1.55h-1.55zM463.8 196.3h1.55v1.55h-1.55zM565.4 114.6h1.55v1.55h-1.55zM504.8 188.2h1.55v1.55h-1.55zM519.0 184.9h1.55v1.55h-1.55zM485.7 192.5h1.55v1.55h-1.55zM506.0 166.8h1.55v1.55h-1.55zM574.7 119.1h1.55v1.55h-1.55zM497.0 167.4h1.55v1.55h-1.55zM509.1 164.7h1.55v1.55h-1.55zM526.2 147.2h1.55v1.55h-1.55zM522.9 191.3h1.55v1.55h-1.55zM523.2 175.5h1.55v1.55h-1.55zM512.9 153.9h1.55v1.55h-1.55zM463.5 186.5h1.55v1.55h-1.55zM518.9 181.1h1.55v1.55h-1.55zM534.9 173.3h1.55v1.55h-1.55zM494.5 171.7h1.55v1.55h-1.55zM459.1 185.5h1.55v1.55h-1.55zM550.1 164.1h1.55v1.55h-1.55zM593.1 109.9h1.55v1.55h-1.55zM540.2 131.5h1.55v1.55h-1.55zM482.5 173.8h1.55v1.55h-1.55zM469.5 177.5h1.55v1.55h-1.55zM504.5 164.8h1.55v1.55h-1.55zM507.8 157.0h1.55v1.55h-1.55zM574.2 103.4h1.55v1.55h-1.55zM552.3 130.3h1.55v1.55h-1.55zM500.2 174.6h1.55v1.55h-1.55zM525.5 140.9h1.55v1.55h-1.55zM511.9 160.8h1.55v1.55h-1.55zM504.8 188.4h1.55v1.55h-1.55zM483.4 176.4h1.55v1.55h-1.55zM506.6 183.8h1.55v1.55h-1.55zM619.6 103.2h1.55v1.55h-1.55zM565.6 126.5h1.55v1.55h-1.55zM519.3 153.6h1.55v1.55h-1.55zM473.1 187.5h1.55v1.55h-1.55zM621.5 83.2h1.55v1.55h-1.55zM543.3 127.3h1.55v1.55h-1.55zM543.4 136.3h1.55v1.55h-1.55zM498.0 188.6h1.55v1.55h-1.55zM536.2 156.5h1.55v1.55h-1.55zM591.4 86.3h1.55v1.55h-1.55zM542.3 148.0h1.55v1.55h-1.55zM486.9 164.8h1.55v1.55h-1.55zM459.9 195.4h1.55v1.55h-1.55zM482.1 180.6h1.55v1.55h-1.55zM554.8 145.3h1.55v1.55h-1.55zM545.9 121.7h1.55v1.55h-1.55zM510.3 170.8h1.55v1.55h-1.55zM545.6 159.0h1.55v1.55h-1.55zM491.3 164.3h1.55v1.55h-1.55zM553.6 119.9h1.55v1.55h-1.55zM505.4 162.0h1.55v1.55h-1.55zM461.9 210.7h1.55v1.55h-1.55zM467.4 185.9h1.55v1.55h-1.55zM629.8 65.5h1.55v1.55h-1.55zM510.0 177.0h1.55v1.55h-1.55zM509.0 163.1h1.55v1.55h-1.55zM490.2 176.3h1.55v1.55h-1.55zM514.0 189.4h1.55v1.55h-1.55zM484.3 167.3h1.55v1.55h-1.55zM481.9 184.0h1.55v1.55h-1.55zM507.7 163.9h1.55v1.55h-1.55zM503.4 151.3h1.55v1.55h-1.55zM492.0 190.1h1.55v1.55h-1.55zM580.5 103.7h1.55v1.55h-1.55zM588.6 106.5h1.55v1.55h-1.55zM562.6 157.4h1.55v1.55h-1.55zM528.0 159.4h1.55v1.55h-1.55zM577.4 107.9h1.55v1.55h-1.55zM535.8 180.3h1.55v1.55h-1.55zM570.1 98.2h1.55v1.55h-1.55zM480.3 181.9h1.55v1.55h-1.55zM515.2 140.6h1.55v1.55h-1.55zM478.1 198.1h1.55v1.55h-1.55zM522.8 165.7h1.55v1.55h-1.55zM517.1 160.9h1.55v1.55h-1.55zM487.1 180.6h1.55v1.55h-1.55zM543.8 153.3h1.55v1.55h-1.55zM551.4 129.3h1.55v1.55h-1.55zM503.5 164.6h1.55v1.55h-1.55zM523.0 156.4h1.55v1.55h-1.55zM486.3 188.5h1.55v1.55h-1.55zM563.3 109.6h1.55v1.55h-1.55zM509.6 164.1h1.55v1.55h-1.55zM494.2 183.1h1.55v1.55h-1.55zM513.9 179.1h1.55v1.55h-1.55zM527.4 146.8h1.55v1.55h-1.55zM511.7 168.5h1.55v1.55h-1.55zM523.4 159.8h1.55v1.55h-1.55zM520.9 163.6h1.55v1.55h-1.55zM484.1 186.9h1.55v1.55h-1.55zM542.4 148.2h1.55v1.55h-1.55zM506.0 172.4h1.55v1.55h-1.55zM484.4 175.1h1.55v1.55h-1.55zM459.6 192.9h1.55v1.55h-1.55zM612.2 91.3h1.55v1.55h-1.55zM517.9 166.5h1.55v1.55h-1.55zM541.5 142.9h1.55v1.55h-1.55zM517.1 148.4h1.55v1.55h-1.55zM550.3 144.0h1.55v1.55h-1.55zM610.6 90.5h1.55v1.55h-1.55zM532.6 148.2h1.55v1.55h-1.55zM491.9 165.8h1.55v1.55h-1.55zM476.0 193.4h1.55v1.55h-1.55zM526.2 177.0h1.55v1.55h-1.55zM508.0 180.1h1.55v1.55h-1.55zM523.9 162.8h1.55v1.55h-1.55zM541.7 126.8h1.55v1.55h-1.55zM549.2 120.1h1.55v1.55h-1.55zM497.8 180.3h1.55v1.55h-1.55zM489.2 171.1h1.55v1.55h-1.55zM522.6 156.3h1.55v1.55h-1.55zM512.3 144.9h1.55v1.55h-1.55zM514.5 161.1h1.55v1.55h-1.55zM538.4 145.7h1.55v1.55h-1.55zM616.7 108.1h1.55v1.55h-1.55zM495.2 159.6h1.55v1.55h-1.55zM485.0 189.5h1.55v1.55h-1.55zM505.3 187.9h1.55v1.55h-1.55zM529.9 140.0h1.55v1.55h-1.55zM553.1 143.3h1.55v1.55h-1.55zM621.2 76.3h1.55v1.55h-1.55zM497.3 164.9h1.55v1.55h-1.55zM491.3 182.3h1.55v1.55h-1.55zM555.2 133.3h1.55v1.55h-1.55zM487.9 195.9h1.55v1.55h-1.55zM504.0 171.1h1.55v1.55h-1.55zM540.7 149.3h1.55v1.55h-1.55zM646.9 61.6h1.55v1.55h-1.55zM600.9 79.7h1.55v1.55h-1.55zM546.4 115.6h1.55v1.55h-1.55zM544.2 138.4h1.55v1.55h-1.55zM484.1 174.2h1.55v1.55h-1.55zM506.9 203.8h1.55v1.55h-1.55zM454.1 199.5h1.55v1.55h-1.55zM484.6 167.7h1.55v1.55h-1.55zM557.9 108.4h1.55v1.55h-1.55zM508.0 179.3h1.55v1.55h-1.55zM535.9 169.4h1.55v1.55h-1.55zM564.7 121.8h1.55v1.55h-1.55zM444.2 215.5h1.55v1.55h-1.55zM585.2 115.6h1.55v1.55h-1.55zM479.5 180.3h1.55v1.55h-1.55zM570.2 125.0h1.55v1.55h-1.55zM524.1 150.8h1.55v1.55h-1.55zM542.8 119.8h1.55v1.55h-1.55zM497.6 165.0h1.55v1.55h-1.55zM539.0 178.6h1.55v1.55h-1.55zM636.6 87.0h1.55v1.55h-1.55zM546.4 163.5h1.55v1.55h-1.55zM444.7 206.7h1.55v1.55h-1.55zM511.8 200.7h1.55v1.55h-1.55zM611.2 120.2h1.55v1.55h-1.55zM515.0 145.5h1.55v1.55h-1.55zM514.3 152.9h1.55v1.55h-1.55zM491.5 178.4h1.55v1.55h-1.55zM531.5 134.8h1.55v1.55h-1.55zM485.1 184.2h1.55v1.55h-1.55zM530.7 146.3h1.55v1.55h-1.55zM545.1 149.7h1.55v1.55h-1.55zM478.3 188.4h1.55v1.55h-1.55zM536.4 153.2h1.55v1.55h-1.55zM474.9 186.8h1.55v1.55h-1.55zM504.5 174.8h1.55v1.55h-1.55zM469.2 176.8h1.55v1.55h-1.55zM573.0 109.6h1.55v1.55h-1.55zM549.0 140.1h1.55v1.55h-1.55zM422.9 217.1h1.55v1.55h-1.55zM538.1 122.8h1.55v1.55h-1.55zM519.8 137.5h1.55v1.55h-1.55zM492.0 166.4h1.55v1.55h-1.55zM503.1 159.7h1.55v1.55h-1.55zM473.4 200.6h1.55v1.55h-1.55zM488.0 171.3h1.55v1.55h-1.55zM525.0 173.6h1.55v1.55h-1.55zM483.4 170.5h1.55v1.55h-1.55zM555.8 138.5h1.55v1.55h-1.55zM523.2 136.8h1.55v1.55h-1.55zM523.3 155.2h1.55v1.55h-1.55zM622.9 75.2h1.55v1.55h-1.55zM529.4 173.8h1.55v1.55h-1.55zM494.8 189.6h1.55v1.55h-1.55zM501.9 153.7h1.55v1.55h-1.55zM570.5 105.6h1.55v1.55h-1.55zM561.8 118.5h1.55v1.55h-1.55zM561.6 115.9h1.55v1.55h-1.55zM561.6 109.1h1.55v1.55h-1.55zM534.7 127.0h1.55v1.55h-1.55zM566.6 148.9h1.55v1.55h-1.55zM495.2 180.0h1.55v1.55h-1.55zM527.6 134.0h1.55v1.55h-1.55zM506.9 150.4h1.55v1.55h-1.55zM501.4 180.9h1.55v1.55h-1.55zM509.3 183.2h1.55v1.55h-1.55zM516.3 176.1h1.55v1.55h-1.55zM478.6 175.4h1.55v1.55h-1.55zM500.5 154.7h1.55v1.55h-1.55zM568.6 144.2h1.55v1.55h-1.55zM546.7 138.3h1.55v1.55h-1.55zM556.3 161.6h1.55v1.55h-1.55zM537.0 140.3h1.55v1.55h-1.55zM541.4 157.6h1.55v1.55h-1.55zM567.1 134.3h1.55v1.55h-1.55zM624.7 94.8h1.55v1.55h-1.55zM494.9 187.3h1.55v1.55h-1.55zM535.5 166.5h1.55v1.55h-1.55zM506.2 162.9h1.55v1.55h-1.55zM565.4 153.2h1.55v1.55h-1.55zM533.0 152.7h1.55v1.55h-1.55zM484.2 195.8h1.55v1.55h-1.55zM474.1 194.6h1.55v1.55h-1.55zM554.6 134.3h1.55v1.55h-1.55zM468.9 202.3h1.55v1.55h-1.55zM475.4 187.0h1.55v1.55h-1.55zM532.7 140.9h1.55v1.55h-1.55zM499.0 210.7h1.55v1.55h-1.55zM499.6 182.5h1.55v1.55h-1.55zM487.3 190.0h1.55v1.55h-1.55zM536.3 154.4h1.55v1.55h-1.55zM530.8 165.4h1.55v1.55h-1.55zM620.1 90.5h1.55v1.55h-1.55zM515.8 146.8h1.55v1.55h-1.55zM495.8 157.6h1.55v1.55h-1.55zM586.6 123.5h1.55v1.55h-1.55zM525.5 155.7h1.55v1.55h-1.55zM505.2 150.1h1.55v1.55h-1.55zM542.2 152.4h1.55v1.55h-1.55zM543.1 149.2h1.55v1.55h-1.55zM464.6 212.0h1.55v1.55h-1.55zM517.8 145.0h1.55v1.55h-1.55zM510.4 159.3h1.55v1.55h-1.55zM519.8 166.8h1.55v1.55h-1.55zM538.5 156.0h1.55v1.55h-1.55zM521.5 184.1h1.55v1.55h-1.55zM508.8 147.0h1.55v1.55h-1.55zM503.7 192.1h1.55v1.55h-1.55zM519.4 159.2h1.55v1.55h-1.55zM520.7 191.4h1.55v1.55h-1.55zM572.5 122.0h1.55v1.55h-1.55zM512.0 142.9h1.55v1.55h-1.55zM515.7 164.1h1.55v1.55h-1.55zM486.9 181.8h1.55v1.55h-1.55zM551.0 130.8h1.55v1.55h-1.55zM625.2 75.7h1.55v1.55h-1.55zM494.7 178.0h1.55v1.55h-1.55zM592.0 134.7h1.55v1.55h-1.55zM502.8 186.0h1.55v1.55h-1.55zM551.4 119.3h1.55v1.55h-1.55zM555.4 111.3h1.55v1.55h-1.55zM570.4 113.2h1.55v1.55h-1.55zM536.0 143.6h1.55v1.55h-1.55zM529.5 156.9h1.55v1.55h-1.55zM537.0 173.1h1.55v1.55h-1.55zM535.7 173.3h1.55v1.55h-1.55zM540.6 143.0h1.55v1.55h-1.55zM501.4 154.0h1.55v1.55h-1.55zM514.9 140.2h1.55v1.55h-1.55zM524.6 148.2h1.55v1.55h-1.55zM546.0 128.5h1.55v1.55h-1.55zM479.7 187.0h1.55v1.55h-1.55zM543.4 150.0h1.55v1.55h-1.55zM505.6 147.7h1.55v1.55h-1.55zM539.3 150.0h1.55v1.55h-1.55zM495.9 160.5h1.55v1.55h-1.55zM516.3 150.4h1.55v1.55h-1.55zM602.3 74.2h1.55v1.55h-1.55zM540.0 148.0h1.55v1.55h-1.55zM578.6 132.2h1.55v1.55h-1.55zM466.3 184.8h1.55v1.55h-1.55zM521.1 185.0h1.55v1.55h-1.55zM477.4 178.3h1.55v1.55h-1.55zM544.9 133.1h1.55v1.55h-1.55zM543.6 127.1h1.55v1.55h-1.55zM530.9 169.4h1.55v1.55h-1.55zM560.3 119.2h1.55v1.55h-1.55zM528.3 155.1h1.55v1.55h-1.55zM471.3 208.9h1.55v1.55h-1.55zM479.7 182.5h1.55v1.55h-1.55zM533.8 183.1h1.55v1.55h-1.55zM505.0 189.1h1.55v1.55h-1.55zM518.2 161.1h1.55v1.55h-1.55zM484.3 173.4h1.55v1.55h-1.55zM530.8 167.2h1.55v1.55h-1.55zM503.8 188.2h1.55v1.55h-1.55zM486.5 165.8h1.55v1.55h-1.55zM539.2 122.8h1.55v1.55h-1.55zM578.2 136.1h1.55v1.55h-1.55zM573.1 139.8h1.55v1.55h-1.55zM518.7 164.8h1.55v1.55h-1.55zM637.6 64.1h1.55v1.55h-1.55zM522.7 156.1h1.55v1.55h-1.55zM524.3 139.3h1.55v1.55h-1.55zM460.2 204.8h1.55v1.55h-1.55zM477.9 183.0h1.55v1.55h-1.55zM606.8 90.7h1.55v1.55h-1.55zM586.9 117.3h1.55v1.55h-1.55zM520.4 149.8h1.55v1.55h-1.55zM508.4 162.9h1.55v1.55h-1.55zM472.4 185.4h1.55v1.55h-1.55zM498.1 197.0h1.55v1.55h-1.55zM543.4 128.0h1.55v1.55h-1.55zM503.4 157.6h1.55v1.55h-1.55zM497.6 175.7h1.55v1.55h-1.55zM468.6 192.4h1.55v1.55h-1.55zM475.6 179.9h1.55v1.55h-1.55zM581.4 89.2h1.55v1.55h-1.55zM562.0 127.2h1.55v1.55h-1.55zM465.9 189.4h1.55v1.55h-1.55zM535.6 141.1h1.55v1.55h-1.55zM541.3 125.6h1.55v1.55h-1.55zM583.0 86.1h1.55v1.55h-1.55zM482.4 197.4h1.55v1.55h-1.55zM536.2 140.5h1.55v1.55h-1.55zM521.5 153.2h1.55v1.55h-1.55zM507.7 188.3h1.55v1.55h-1.55zM514.9 172.1h1.55v1.55h-1.55zM618.6 83.2h1.55v1.55h-1.55zM514.2 179.7h1.55v1.55h-1.55zM534.3 127.5h1.55v1.55h-1.55zM490.8 185.1h1.55v1.55h-1.55zM619.7 80.0h1.55v1.55h-1.55zM582.3 101.0h1.55v1.55h-1.55zM522.4 157.6h1.55v1.55h-1.55zM498.4 164.9h1.55v1.55h-1.55zM513.8 185.6h1.55v1.55h-1.55zM495.4 163.9h1.55v1.55h-1.55zM542.5 121.5h1.55v1.55h-1.55zM542.3 148.9h1.55v1.55h-1.55zM483.2 186.1h1.55v1.55h-1.55zM543.0 146.1h1.55v1.55h-1.55zM551.0 134.7h1.55v1.55h-1.55zM510.0 154.7h1.55v1.55h-1.55zM512.7 148.7h1.55v1.55h-1.55zM516.0 184.0h1.55v1.55h-1.55zM504.0 149.4h1.55v1.55h-1.55zM610.9 71.5h1.55v1.55h-1.55zM485.1 174.2h1.55v1.55h-1.55zM540.8 152.0h1.55v1.55h-1.55zM577.5 112.3h1.55v1.55h-1.55zM494.9 188.7h1.55v1.55h-1.55zM542.7 131.8h1.55v1.55h-1.55zM646.7 74.0h1.55v1.55h-1.55zM566.6 111.6h1.55v1.55h-1.55zM530.8 140.4h1.55v1.55h-1.55zM531.9 147.3h1.55v1.55h-1.55zM513.4 179.2h1.55v1.55h-1.55zM485.7 193.2h1.55v1.55h-1.55zM488.3 165.3h1.55v1.55h-1.55zM494.3 184.2h1.55v1.55h-1.55zM526.6 131.4h1.55v1.55h-1.55zM523.4 174.2h1.55v1.55h-1.55zM544.6 139.2h1.55v1.55h-1.55zM482.8 172.2h1.55v1.55h-1.55zM570.0 133.8h1.55v1.55h-1.55zM468.4 179.4h1.55v1.55h-1.55zM553.5 120.1h1.55v1.55h-1.55zM573.9 127.7h1.55v1.55h-1.55zM489.4 169.7h1.55v1.55h-1.55zM519.1 163.0h1.55v1.55h-1.55zM522.1 166.5h1.55v1.55h-1.55zM551.6 124.3h1.55v1.55h-1.55zM507.8 152.7h1.55v1.55h-1.55zM606.1 114.0h1.55v1.55h-1.55zM583.9 117.7h1.55v1.55h-1.55zM493.0 178.8h1.55v1.55h-1.55zM496.2 169.7h1.55v1.55h-1.55zM546.9 128.3h1.55v1.55h-1.55zM512.2 198.0h1.55v1.55h-1.55zM609.0 79.7h1.55v1.55h-1.55zM506.1 172.6h1.55v1.55h-1.55zM500.1 187.0h1.55v1.55h-1.55zM619.6 86.3h1.55v1.55h-1.55zM613.7 115.8h1.55v1.55h-1.55zM521.7 155.0h1.55v1.55h-1.55zM474.1 176.1h1.55v1.55h-1.55zM534.7 143.5h1.55v1.55h-1.55zM517.1 138.5h1.55v1.55h-1.55zM484.0 177.3h1.55v1.55h-1.55zM504.9 185.8h1.55v1.55h-1.55zM505.4 185.6h1.55v1.55h-1.55zM532.2 178.0h1.55v1.55h-1.55zM459.5 197.7h1.55v1.55h-1.55zM543.1 148.2h1.55v1.55h-1.55zM497.6 168.3h1.55v1.55h-1.55zM460.0 196.9h1.55v1.55h-1.55zM572.8 130.8h1.55v1.55h-1.55zM493.4 168.7h1.55v1.55h-1.55zM613.4 81.2h1.55v1.55h-1.55zM526.8 141.3h1.55v1.55h-1.55zM542.7 129.8h1.55v1.55h-1.55zM493.5 172.0h1.55v1.55h-1.55zM523.1 150.6h1.55v1.55h-1.55zM529.5 151.8h1.55v1.55h-1.55zM513.7 158.1h1.55v1.55h-1.55zM483.1 186.3h1.55v1.55h-1.55zM505.4 156.1h1.55v1.55h-1.55zM544.5 136.3h1.55v1.55h-1.55zM500.9 158.2h1.55v1.55h-1.55zM612.7 82.3h1.55v1.55h-1.55zM441.6 207.9h1.55v1.55h-1.55zM591.4 136.5h1.55v1.55h-1.55zM523.3 162.2h1.55v1.55h-1.55zM525.8 138.1h1.55v1.55h-1.55zM541.2 145.2h1.55v1.55h-1.55zM512.5 154.2h1.55v1.55h-1.55zM528.6 144.5h1.55v1.55h-1.55zM501.1 171.1h1.55v1.55h-1.55zM518.4 169.8h1.55v1.55h-1.55zM536.2 163.1h1.55v1.55h-1.55zM513.6 200.7h1.55v1.55h-1.55zM512.7 168.7h1.55v1.55h-1.55zM551.8 169.9h1.55v1.55h-1.55zM515.0 155.3h1.55v1.55h-1.55zM609.7 88.0h1.55v1.55h-1.55zM510.4 167.8h1.55v1.55h-1.55zM487.1 181.4h1.55v1.55h-1.55zM503.5 160.5h1.55v1.55h-1.55zM532.4 137.7h1.55v1.55h-1.55zM519.9 162.5h1.55v1.55h-1.55zM532.0 147.3h1.55v1.55h-1.55zM462.3 189.4h1.55v1.55h-1.55zM538.2 164.6h1.55v1.55h-1.55zM517.4 149.5h1.55v1.55h-1.55zM503.5 178.4h1.55v1.55h-1.55zM501.0 202.7h1.55v1.55h-1.55zM636.0 48.9h1.55v1.55h-1.55zM507.1 158.3h1.55v1.55h-1.55zM597.2 89.7h1.55v1.55h-1.55zM540.2 138.2h1.55v1.55h-1.55zM525.2 192.4h1.55v1.55h-1.55zM511.4 201.4h1.55v1.55h-1.55zM565.2 133.7h1.55v1.55h-1.55zM499.9 156.1h1.55v1.55h-1.55zM530.9 149.1h1.55v1.55h-1.55zM538.7 132.9h1.55v1.55h-1.55zM472.9 199.2h1.55v1.55h-1.55zM495.7 160.2h1.55v1.55h-1.55zM502.8 189.5h1.55v1.55h-1.55zM523.0 168.3h1.55v1.55h-1.55zM567.5 114.1h1.55v1.55h-1.55zM450.4 206.7h1.55v1.55h-1.55zM515.2 166.4h1.55v1.55h-1.55zM570.5 117.0h1.55v1.55h-1.55zM498.9 182.5h1.55v1.55h-1.55zM497.4 184.2h1.55v1.55h-1.55zM546.8 130.7h1.55v1.55h-1.55zM534.5 149.4h1.55v1.55h-1.55zM571.3 102.4h1.55v1.55h-1.55zM496.1 171.0h1.55v1.55h-1.55zM535.3 134.5h1.55v1.55h-1.55zM546.7 148.6h1.55v1.55h-1.55zM462.5 185.4h1.55v1.55h-1.55zM496.3 168.3h1.55v1.55h-1.55zM517.3 145.4h1.55v1.55h-1.55zM509.2 172.1h1.55v1.55h-1.55zM557.5 111.7h1.55v1.55h-1.55zM479.9 173.3h1.55v1.55h-1.55zM514.6 186.3h1.55v1.55h-1.55zM509.2 163.7h1.55v1.55h-1.55zM521.9 151.0h1.55v1.55h-1.55zM468.6 196.6h1.55v1.55h-1.55zM466.1 195.8h1.55v1.55h-1.55zM511.5 145.6h1.55v1.55h-1.55zM546.0 150.5h1.55v1.55h-1.55zM529.2 141.6h1.55v1.55h-1.55zM495.6 167.5h1.55v1.55h-1.55zM506.3 155.8h1.55v1.55h-1.55zM532.0 133.8h1.55v1.55h-1.55zM545.5 140.3h1.55v1.55h-1.55zM475.2 196.0h1.55v1.55h-1.55zM565.7 118.8h1.55v1.55h-1.55zM554.5 133.5h1.55v1.55h-1.55zM524.0 180.9h1.55v1.55h-1.55zM569.7 121.1h1.55v1.55h-1.55zM490.9 183.4h1.55v1.55h-1.55zM431.5 217.3h1.55v1.55h-1.55zM576.3 97.5h1.55v1.55h-1.55zM533.0 167.5h1.55v1.55h-1.55zM495.4 169.5h1.55v1.55h-1.55zM561.2 116.1h1.55v1.55h-1.55zM513.1 158.3h1.55v1.55h-1.55zM504.9 187.1h1.55v1.55h-1.55zM495.6 175.5h1.55v1.55h-1.55zM570.9 110.0h1.55v1.55h-1.55zM582.9 106.2h1.55v1.55h-1.55zM531.9 171.9h1.55v1.55h-1.55zM498.6 155.6h1.55v1.55h-1.55zM522.3 161.9h1.55v1.55h-1.55zM527.5 141.0h1.55v1.55h-1.55zM564.5 135.4h1.55v1.55h-1.55zM521.0 166.6h1.55v1.55h-1.55zM487.2 165.0h1.55v1.55h-1.55zM478.0 205.5h1.55v1.55h-1.55zM519.7 147.9h1.55v1.55h-1.55zM512.8 180.0h1.55v1.55h-1.55zM525.2 167.9h1.55v1.55h-1.55zM525.8 175.9h1.55v1.55h-1.55zM544.2 120.5h1.55v1.55h-1.55zM488.4 181.4h1.55v1.55h-1.55zM496.5 161.9h1.55v1.55h-1.55zM555.6 136.8h1.55v1.55h-1.55zM537.7 123.3h1.55v1.55h-1.55zM515.4 170.6h1.55v1.55h-1.55zM511.1 172.7h1.55v1.55h-1.55zM563.8 131.1h1.55v1.55h-1.55zM566.6 132.0h1.55v1.55h-1.55zM469.5 189.9h1.55v1.55h-1.55zM611.4 76.5h1.55v1.55h-1.55zM526.6 187.7h1.55v1.55h-1.55zM522.8 150.1h1.55v1.55h-1.55zM493.1 165.0h1.55v1.55h-1.55zM544.3 145.9h1.55v1.55h-1.55zM558.2 108.4h1.55v1.55h-1.55zM461.3 192.7h1.55v1.55h-1.55zM519.1 178.5h1.55v1.55h-1.55zM486.8 172.4h1.55v1.55h-1.55zM500.4 170.1h1.55v1.55h-1.55zM469.2 195.7h1.55v1.55h-1.55zM521.7 145.0h1.55v1.55h-1.55zM521.7 152.7h1.55v1.55h-1.55zM546.7 121.6h1.55v1.55h-1.55zM469.1 190.2h1.55v1.55h-1.55zM503.8 149.9h1.55v1.55h-1.55zM464.5 206.1h1.55v1.55h-1.55zM484.9 166.2h1.55v1.55h-1.55zM559.5 116.3h1.55v1.55h-1.55zM503.8 169.2h1.55v1.55h-1.55zM476.0 185.3h1.55v1.55h-1.55zM551.3 116.5h1.55v1.55h-1.55zM514.6 164.6h1.55v1.55h-1.55zM513.4 169.2h1.55v1.55h-1.55zM531.6 163.8h1.55v1.55h-1.55zM560.5 122.2h1.55v1.55h-1.55zM521.5 162.7h1.55v1.55h-1.55zM556.2 145.7h1.55v1.55h-1.55zM533.5 132.7h1.55v1.55h-1.55zM485.1 171.6h1.55v1.55h-1.55zM576.4 115.5h1.55v1.55h-1.55zM650.7 63.4h1.55v1.55h-1.55zM581.8 112.2h1.55v1.55h-1.55zM506.0 174.8h1.55v1.55h-1.55zM499.8 203.6h1.55v1.55h-1.55zM496.1 174.1h1.55v1.55h-1.55zM525.7 134.1h1.55v1.55h-1.55zM516.2 173.1h1.55v1.55h-1.55zM545.7 161.9h1.55v1.55h-1.55zM492.2 182.8h1.55v1.55h-1.55zM566.3 118.1h1.55v1.55h-1.55zM521.2 141.4h1.55v1.55h-1.55zM521.3 136.0h1.55v1.55h-1.55zM528.8 154.5h1.55v1.55h-1.55zM576.4 128.5h1.55v1.55h-1.55zM491.6 159.0h1.55v1.55h-1.55zM510.9 157.7h1.55v1.55h-1.55zM539.4 141.8h1.55v1.55h-1.55zM609.4 66.5h1.55v1.55h-1.55zM490.6 183.1h1.55v1.55h-1.55zM505.2 149.6h1.55v1.55h-1.55zM552.6 117.7h1.55v1.55h-1.55zM646.6 63.7h1.55v1.55h-1.55zM506.3 174.1h1.55v1.55h-1.55zM517.4 171.8h1.55v1.55h-1.55zM532.4 126.4h1.55v1.55h-1.55zM524.4 163.9h1.55v1.55h-1.55zM534.6 129.7h1.55v1.55h-1.55zM498.6 174.3h1.55v1.55h-1.55zM508.0 163.9h1.55v1.55h-1.55zM476.8 178.0h1.55v1.55h-1.55zM520.9 180.7h1.55v1.55h-1.55zM502.4 176.6h1.55v1.55h-1.55zM484.3 190.8h1.55v1.55h-1.55zM514.3 150.4h1.55v1.55h-1.55zM520.4 173.6h1.55v1.55h-1.55zM494.2 166.0h1.55v1.55h-1.55zM520.9 156.9h1.55v1.55h-1.55zM484.7 173.8h1.55v1.55h-1.55zM470.1 196.9h1.55v1.55h-1.55zM529.8 151.3h1.55v1.55h-1.55zM636.9 79.2h1.55v1.55h-1.55zM526.6 171.1h1.55v1.55h-1.55zM559.7 107.0h1.55v1.55h-1.55zM565.3 118.0h1.55v1.55h-1.55zM517.4 164.5h1.55v1.55h-1.55zM498.1 162.7h1.55v1.55h-1.55zM549.7 137.9h1.55v1.55h-1.55zM551.9 148.6h1.55v1.55h-1.55zM517.8 138.7h1.55v1.55h-1.55zM453.8 196.6h1.55v1.55h-1.55zM480.2 188.7h1.55v1.55h-1.55zM543.2 165.2h1.55v1.55h-1.55zM564.5 109.6h1.55v1.55h-1.55zM539.6 161.5h1.55v1.55h-1.55zM529.1 134.2h1.55v1.55h-1.55zM536.6 134.2h1.55v1.55h-1.55zM491.7 187.0h1.55v1.55h-1.55zM506.6 152.2h1.55v1.55h-1.55zM523.7 140.5h1.55v1.55h-1.55zM497.7 165.4h1.55v1.55h-1.55zM503.0 165.5h1.55v1.55h-1.55zM533.3 160.6h1.55v1.55h-1.55zM529.2 129.7h1.55v1.55h-1.55zM507.2 154.6h1.55v1.55h-1.55zM516.0 148.4h1.55v1.55h-1.55zM477.1 170.9h1.55v1.55h-1.55zM517.9 156.2h1.55v1.55h-1.55zM480.6 205.2h1.55v1.55h-1.55zM466.8 180.5h1.55v1.55h-1.55zM634.7 52.4h1.55v1.55h-1.55zM493.1 175.8h1.55v1.55h-1.55zM500.2 167.3h1.55v1.55h-1.55zM453.2 198.8h1.55v1.55h-1.55zM469.9 178.4h1.55v1.55h-1.55zM480.8 198.8h1.55v1.55h-1.55zM521.2 155.3h1.55v1.55h-1.55zM536.5 150.9h1.55v1.55h-1.55zM502.9 167.9h1.55v1.55h-1.55zM546.9 150.7h1.55v1.55h-1.55zM513.4 186.7h1.55v1.55h-1.55zM559.2 112.0h1.55v1.55h-1.55zM508.8 182.6h1.55v1.55h-1.55zM508.5 162.7h1.55v1.55h-1.55zM534.0 161.4h1.55v1.55h-1.55zM449.9 199.9h1.55v1.55h-1.55zM529.9 167.0h1.55v1.55h-1.55zM543.3 140.1h1.55v1.55h-1.55zM532.2 151.9h1.55v1.55h-1.55zM542.1 134.6h1.55v1.55h-1.55zM454.6 222.4h1.55v1.55h-1.55zM538.7 138.0h1.55v1.55h-1.55zM527.3 141.8h1.55v1.55h-1.55zM500.7 176.7h1.55v1.55h-1.55zM512.3 163.4h1.55v1.55h-1.55zM478.3 206.6h1.55v1.55h-1.55zM536.1 177.9h1.55v1.55h-1.55zM559.6 138.9h1.55v1.55h-1.55zM485.6 192.5h1.55v1.55h-1.55zM504.5 150.4h1.55v1.55h-1.55zM458.4 205.5h1.55v1.55h-1.55zM513.5 143.8h1.55v1.55h-1.55zM455.7 203.8h1.55v1.55h-1.55zM462.6 191.6h1.55v1.55h-1.55zM616.8 79.9h1.55v1.55h-1.55zM506.6 180.9h1.55v1.55h-1.55zM488.1 169.3h1.55v1.55h-1.55zM479.8 181.1h1.55v1.55h-1.55zM535.9 147.1h1.55v1.55h-1.55zM471.3 202.6h1.55v1.55h-1.55zM489.7 167.1h1.55v1.55h-1.55zM510.7 180.5h1.55v1.55h-1.55zM568.5 126.8h1.55v1.55h-1.55zM495.9 167.5h1.55v1.55h-1.55zM509.7 172.7h1.55v1.55h-1.55zM523.9 155.8h1.55v1.55h-1.55zM536.1 133.3h1.55v1.55h-1.55zM535.5 149.1h1.55v1.55h-1.55zM471.8 183.7h1.55v1.55h-1.55zM574.5 120.9h1.55v1.55h-1.55zM535.8 145.8h1.55v1.55h-1.55zM515.3 145.6h1.55v1.55h-1.55zM533.4 140.4h1.55v1.55h-1.55zM490.5 171.6h1.55v1.55h-1.55zM516.1 158.8h1.55v1.55h-1.55zM482.4 192.5h1.55v1.55h-1.55zM502.7 158.6h1.55v1.55h-1.55zM468.2 187.6h1.55v1.55h-1.55zM489.1 193.2h1.55v1.55h-1.55zM550.4 157.1h1.55v1.55h-1.55zM594.4 102.0h1.55v1.55h-1.55zM506.5 166.5h1.55v1.55h-1.55zM479.9 172.0h1.55v1.55h-1.55zM520.6 149.2h1.55v1.55h-1.55zM527.2 170.8h1.55v1.55h-1.55zM524.1 168.5h1.55v1.55h-1.55zM496.7 180.2h1.55v1.55h-1.55zM442.3 217.5h1.55v1.55h-1.55zM461.0 196.8h1.55v1.55h-1.55zM543.5 122.8h1.55v1.55h-1.55zM562.8 131.6h1.55v1.55h-1.55zM509.1 175.5h1.55v1.55h-1.55zM536.7 138.9h1.55v1.55h-1.55zM575.1 138.7h1.55v1.55h-1.55zM487.8 173.6h1.55v1.55h-1.55zM505.8 155.5h1.55v1.55h-1.55zM585.8 127.7h1.55v1.55h-1.55zM561.0 119.5h1.55v1.55h-1.55zM523.5 143.7h1.55v1.55h-1.55zM544.6 160.7h1.55v1.55h-1.55zM467.0 189.3h1.55v1.55h-1.55zM534.4 155.4h1.55v1.55h-1.55zM488.1 194.2h1.55v1.55h-1.55zM518.4 187.0h1.55v1.55h-1.55zM536.8 176.0h1.55v1.55h-1.55zM516.9 150.9h1.55v1.55h-1.55zM533.7 163.5h1.55v1.55h-1.55zM497.6 163.9h1.55v1.55h-1.55zM517.7 151.7h1.55v1.55h-1.55zM532.3 146.6h1.55v1.55h-1.55zM526.1 157.9h1.55v1.55h-1.55zM501.8 178.9h1.55v1.55h-1.55zM496.7 197.1h1.55v1.55h-1.55zM529.4 158.7h1.55v1.55h-1.55zM495.9 183.7h1.55v1.55h-1.55zM639.5 50.6h1.55v1.55h-1.55zM487.0 176.3h1.55v1.55h-1.55zM570.4 121.4h1.55v1.55h-1.55zM517.6 168.5h1.55v1.55h-1.55zM562.2 149.1h1.55v1.55h-1.55zM525.0 165.1h1.55v1.55h-1.55zM580.5 104.8h1.55v1.55h-1.55zM480.0 173.2h1.55v1.55h-1.55zM537.7 159.6h1.55v1.55h-1.55zM519.6 163.3h1.55v1.55h-1.55zM561.9 107.7h1.55v1.55h-1.55zM635.7 93.7h1.55v1.55h-1.55zM567.9 101.4h1.55v1.55h-1.55zM526.2 146.2h1.55v1.55h-1.55zM503.2 210.2h1.55v1.55h-1.55zM545.6 169.6h1.55v1.55h-1.55zM511.7 165.2h1.55v1.55h-1.55zM577.0 93.8h1.55v1.55h-1.55zM541.6 132.0h1.55v1.55h-1.55zM512.0 170.6h1.55v1.55h-1.55zM502.1 150.9h1.55v1.55h-1.55zM501.9 163.2h1.55v1.55h-1.55zM513.5 151.1h1.55v1.55h-1.55zM464.6 184.9h1.55v1.55h-1.55zM471.4 181.0h1.55v1.55h-1.55zM454.5 192.5h1.55v1.55h-1.55zM524.0 163.5h1.55v1.55h-1.55zM534.4 141.3h1.55v1.55h-1.55zM541.1 130.0h1.55v1.55h-1.55zM507.2 178.3h1.55v1.55h-1.55zM527.2 164.0h1.55v1.55h-1.55zM492.7 177.6h1.55v1.55h-1.55zM492.6 163.8h1.55v1.55h-1.55zM512.1 179.5h1.55v1.55h-1.55zM511.1 168.5h1.55v1.55h-1.55zM469.7 198.3h1.55v1.55h-1.55zM471.7 185.2h1.55v1.55h-1.55zM587.8 96.4h1.55v1.55h-1.55zM546.5 139.0h1.55v1.55h-1.55zM568.5 110.6h1.55v1.55h-1.55zM520.7 164.5h1.55v1.55h-1.55zM497.7 166.3h1.55v1.55h-1.55zM486.4 179.4h1.55v1.55h-1.55zM539.9 170.1h1.55v1.55h-1.55zM531.6 168.9h1.55v1.55h-1.55zM459.9 208.1h1.55v1.55h-1.55zM509.4 184.2h1.55v1.55h-1.55zM460.3 195.7h1.55v1.55h-1.55zM535.9 151.9h1.55v1.55h-1.55zM491.2 175.9h1.55v1.55h-1.55zM574.2 125.9h1.55v1.55h-1.55zM494.6 156.1h1.55v1.55h-1.55zM494.1 161.8h1.55v1.55h-1.55zM526.9 170.1h1.55v1.55h-1.55zM521.7 173.1h1.55v1.55h-1.55zM549.1 148.2h1.55v1.55h-1.55zM513.9 170.6h1.55v1.55h-1.55zM489.4 167.9h1.55v1.55h-1.55zM553.1 125.3h1.55v1.55h-1.55zM553.5 157.2h1.55v1.55h-1.55zM474.4 191.2h1.55v1.55h-1.55zM590.1 117.4h1.55v1.55h-1.55zM477.2 185.6h1.55v1.55h-1.55zM534.6 164.5h1.55v1.55h-1.55zM481.1 190.6h1.55v1.55h-1.55zM491.0 182.0h1.55v1.55h-1.55zM531.3 132.1h1.55v1.55h-1.55zM455.8 189.7h1.55v1.55h-1.55zM541.0 143.5h1.55v1.55h-1.55zM516.5 147.7h1.55v1.55h-1.55zM466.2 203.6h1.55v1.55h-1.55zM574.2 105.6h1.55v1.55h-1.55zM458.8 202.2h1.55v1.55h-1.55zM494.5 172.3h1.55v1.55h-1.55zM492.5 165.8h1.55v1.55h-1.55zM488.9 184.8h1.55v1.55h-1.55zM511.4 172.3h1.55v1.55h-1.55zM513.7 162.6h1.55v1.55h-1.55zM453.5 210.1h1.55v1.55h-1.55zM516.9 148.0h1.55v1.55h-1.55zM589.9 109.4h1.55v1.55h-1.55zM499.8 177.2h1.55v1.55h-1.55zM459.5 193.9h1.55v1.55h-1.55zM466.3 192.7h1.55v1.55h-1.55zM540.6 121.0h1.55v1.55h-1.55zM548.5 140.6h1.55v1.55h-1.55zM543.5 136.3h1.55v1.55h-1.55zM567.2 106.0h1.55v1.55h-1.55zM476.6 186.3h1.55v1.55h-1.55zM485.3 180.0h1.55v1.55h-1.55zM550.8 148.1h1.55v1.55h-1.55zM527.4 135.2h1.55v1.55h-1.55zM528.4 141.9h1.55v1.55h-1.55zM463.2 198.2h1.55v1.55h-1.55zM436.7 218.7h1.55v1.55h-1.55zM528.5 147.6h1.55v1.55h-1.55zM509.0 162.9h1.55v1.55h-1.55zM514.0 182.1h1.55v1.55h-1.55zM627.1 88.9h1.55v1.55h-1.55zM512.5 147.1h1.55v1.55h-1.55zM516.8 177.7h1.55v1.55h-1.55zM534.4 133.7h1.55v1.55h-1.55zM509.4 150.6h1.55v1.55h-1.55zM524.7 156.2h1.55v1.55h-1.55zM523.7 164.6h1.55v1.55h-1.55zM507.8 150.7h1.55v1.55h-1.55zM481.3 170.8h1.55v1.55h-1.55zM526.2 151.2h1.55v1.55h-1.55zM490.4 172.4h1.55v1.55h-1.55zM472.5 173.8h1.55v1.55h-1.55zM496.1 181.5h1.55v1.55h-1.55zM533.0 151.8h1.55v1.55h-1.55zM591.9 88.9h1.55v1.55h-1.55zM533.3 128.3h1.55v1.55h-1.55zM537.0 136.6h1.55v1.55h-1.55zM588.9 88.1h1.55v1.55h-1.55zM515.8 150.1h1.55v1.55h-1.55zM579.5 114.7h1.55v1.55h-1.55zM576.0 97.7h1.55v1.55h-1.55zM463.5 200.0h1.55v1.55h-1.55zM547.7 116.4h1.55v1.55h-1.55zM534.7 143.0h1.55v1.55h-1.55zM514.1 153.7h1.55v1.55h-1.55zM487.3 191.9h1.55v1.55h-1.55zM551.5 132.7h1.55v1.55h-1.55zM569.5 121.7h1.55v1.55h-1.55zM558.6 123.2h1.55v1.55h-1.55zM526.3 156.2h1.55v1.55h-1.55zM541.2 156.2h1.55v1.55h-1.55zM548.9 137.0h1.55v1.55h-1.55zM534.4 143.3h1.55v1.55h-1.55zM522.2 168.0h1.55v1.55h-1.55zM467.3 181.3h1.55v1.55h-1.55zM631.6 50.8h1.55v1.55h-1.55zM511.6 154.2h1.55v1.55h-1.55zM543.4 177.8h1.55v1.55h-1.55zM506.8 154.9h1.55v1.55h-1.55zM452.8 233.7h1.55v1.55h-1.55z" fill="#000"/>
<line x1="419.48" y1="248.33" x2="669.89" y2="48.30" stroke="#000" stroke-width="1.3"/>
<line x1="419.48" y1="217.48" x2="669.89" y2="17.45" stroke="#DD3038" stroke-width="1.5" stroke-dasharray="3.8 4.4"/>
<line x1="419.48" y1="279.18" x2="669.89" y2="79.15" stroke="#DD3038" stroke-width="1.5" stroke-dasharray="3.8 4.4"/>
<g fill="none" stroke="#000" stroke-width="1.15"><circle cx="450.6" cy="161.3" r="3.5"/><circle cx="474.3" cy="154.9" r="3.5"/><circle cx="437.4" cy="199.5" r="3.5"/><circle cx="443.6" cy="196.2" r="3.5"/><circle cx="453.9" cy="187.8" r="3.5"/><circle cx="455.9" cy="184.9" r="3.5"/><circle cx="460.7" cy="180.1" r="3.5"/><circle cx="466.5" cy="179.1" r="3.5"/><circle cx="468.8" cy="165.5" r="3.5"/><circle cx="470.8" cy="174.3" r="3.5"/><circle cx="472.7" cy="172.3" r="3.5"/><circle cx="479.1" cy="168.4" r="3.5"/><circle cx="484.9" cy="160.7" r="3.5"/><circle cx="486.9" cy="157.8" r="3.5"/><circle cx="487.3" cy="147.1" r="3.5"/><circle cx="488.8" cy="139.4" r="3.5"/><circle cx="491.5" cy="142.9" r="3.5"/><circle cx="498.6" cy="141.7" r="3.5"/><circle cx="500.4" cy="147.1" r="3.5"/><circle cx="508.2" cy="134.5" r="3.5"/><circle cx="510.1" cy="130.7" r="3.5"/><circle cx="515.0" cy="128.7" r="3.5"/><circle cx="513.6" cy="211.1" r="3.5"/><circle cx="493.6" cy="232.0" r="3.5"/><circle cx="420.0" cy="215.9" r="3.5"/><circle cx="509.3" cy="129.8" r="3.5"/><circle cx="508.1" cy="133.4" r="3.5"/><circle cx="514.7" cy="128.0" r="3.5"/><circle cx="517.7" cy="135.8" r="3.5"/><circle cx="521.3" cy="119.1" r="3.5"/><circle cx="528.4" cy="118.5" r="3.5"/><circle cx="530.8" cy="123.2" r="3.5"/><circle cx="539.1" cy="121.5" r="3.5"/><circle cx="527.8" cy="108.3" r="3.5"/><circle cx="535.6" cy="111.3" r="3.5"/><circle cx="538.0" cy="103.0" r="3.5"/><circle cx="542.7" cy="112.5" r="3.5"/><circle cx="532.0" cy="101.2" r="3.5"/><circle cx="547.5" cy="103.6" r="3.5"/><circle cx="479.5" cy="167.9" r="3.5"/><circle cx="471.2" cy="171.5" r="3.5"/><circle cx="472.4" cy="177.5" r="3.5"/><circle cx="485.5" cy="157.2" r="3.5"/><circle cx="483.1" cy="160.8" r="3.5"/><circle cx="617.1" cy="53.1" r="3.5"/><circle cx="594.0" cy="58.7" r="3.5"/><circle cx="599.7" cy="66.0" r="3.5"/><circle cx="593.6" cy="71.8" r="3.5"/><circle cx="582.8" cy="74.1" r="3.5"/><circle cx="575.6" cy="77.0" r="3.5"/><circle cx="579.5" cy="80.1" r="3.5"/><circle cx="588.6" cy="81.4" r="3.5"/><circle cx="578.5" cy="86.2" r="3.5"/><circle cx="568.9" cy="90.5" r="3.5"/><circle cx="545.4" cy="88.2" r="3.5"/><circle cx="567.9" cy="97.8" r="3.5"/><circle cx="550.6" cy="102.6" r="3.5"/><circle cx="558.3" cy="103.6" r="3.5"/><circle cx="554.5" cy="105.5" r="3.5"/><circle cx="542.9" cy="113.2" r="3.5"/><circle cx="550.6" cy="112.3" r="3.5"/><circle cx="650.2" cy="99.7" r="3.5"/><circle cx="610.0" cy="138.3" r="3.5"/><circle cx="586.7" cy="146.6" r="3.5"/><circle cx="578.8" cy="153.2" r="3.5"/><circle cx="564.7" cy="166.1" r="3.5"/><circle cx="557.7" cy="170.2" r="3.5"/><circle cx="564.3" cy="172.9" r="3.5"/><circle cx="551.9" cy="175.0" r="3.5"/><circle cx="540.0" cy="200.9" r="3.5"/><circle cx="483.6" cy="157.6" r="3.5"/><circle cx="486.3" cy="155.6" r="3.5"/><circle cx="497.0" cy="148.9" r="3.5"/><circle cx="494.4" cy="154.3" r="3.5"/><circle cx="501.0" cy="150.2" r="3.5"/><circle cx="505.1" cy="144.9" r="3.5"/><circle cx="485.0" cy="163.0" r="3.5"/><circle cx="489.7" cy="161.6" r="3.5"/><circle cx="491.7" cy="151.6" r="3.5"/><circle cx="547.2" cy="113.6" r="3.5"/><circle cx="522.2" cy="127.0" r="3.5"/><circle cx="525.8" cy="130.1" r="3.5"/><circle cx="519.5" cy="131.5" r="3.5"/><circle cx="515.0" cy="132.4" r="3.5"/><circle cx="507.9" cy="141.3" r="3.5"/><circle cx="510.6" cy="139.5" r="3.5"/><circle cx="495.4" cy="145.8" r="3.5"/><circle cx="491.8" cy="157.4" r="3.5"/><circle cx="496.3" cy="155.6" r="3.5"/><circle cx="503.4" cy="149.4" r="3.5"/></g>
<path d="M449.8 160.5h1.55v1.55h-1.55zM473.5 154.1h1.55v1.55h-1.55zM436.6 198.7h1.55v1.55h-1.55zM442.8 195.4h1.55v1.55h-1.55zM453.1 187.0h1.55v1.55h-1.55zM455.1 184.1h1.55v1.55h-1.55zM459.9 179.3h1.55v1.55h-1.55zM465.7 178.3h1.55v1.55h-1.55zM468.0 164.7h1.55v1.55h-1.55zM470.0 173.5h1.55v1.55h-1.55zM471.9 171.5h1.55v1.55h-1.55zM478.3 167.6h1.55v1.55h-1.55zM484.1 159.9h1.55v1.55h-1.55zM486.1 157.0h1.55v1.55h-1.55zM486.5 146.3h1.55v1.55h-1.55zM488.0 138.6h1.55v1.55h-1.55zM490.7 142.1h1.55v1.55h-1.55zM497.8 140.9h1.55v1.55h-1.55zM499.6 146.3h1.55v1.55h-1.55zM507.4 133.7h1.55v1.55h-1.55zM509.3 129.9h1.55v1.55h-1.55zM514.2 127.9h1.55v1.55h-1.55zM512.8 210.3h1.55v1.55h-1.55zM492.8 231.2h1.55v1.55h-1.55zM419.2 215.1h1.55v1.55h-1.55zM508.5 129.0h1.55v1.55h-1.55zM507.3 132.6h1.55v1.55h-1.55zM513.9 127.2h1.55v1.55h-1.55zM516.9 135.0h1.55v1.55h-1.55zM520.5 118.3h1.55v1.55h-1.55zM527.6 117.7h1.55v1.55h-1.55zM530.0 122.4h1.55v1.55h-1.55zM538.3 120.7h1.55v1.55h-1.55zM527.0 107.5h1.55v1.55h-1.55zM534.8 110.5h1.55v1.55h-1.55zM537.2 102.2h1.55v1.55h-1.55zM541.9 111.7h1.55v1.55h-1.55zM531.2 100.4h1.55v1.55h-1.55zM546.7 102.8h1.55v1.55h-1.55zM478.7 167.1h1.55v1.55h-1.55zM470.4 170.7h1.55v1.55h-1.55zM471.6 176.7h1.55v1.55h-1.55zM484.7 156.4h1.55v1.55h-1.55zM482.3 160.0h1.55v1.55h-1.55zM616.3 52.3h1.55v1.55h-1.55zM593.2 57.9h1.55v1.55h-1.55zM598.9 65.2h1.55v1.55h-1.55zM592.8 71.0h1.55v1.55h-1.55zM582.0 73.3h1.55v1.55h-1.55zM574.8 76.2h1.55v1.55h-1.55zM578.7 79.3h1.55v1.55h-1.55zM587.8 80.6h1.55v1.55h-1.55zM577.7 85.4h1.55v1.55h-1.55zM568.1 89.7h1.55v1.55h-1.55zM544.6 87.4h1.55v1.55h-1.55zM567.1 97.0h1.55v1.55h-1.55zM549.8 101.8h1.55v1.55h-1.55zM557.5 102.8h1.55v1.55h-1.55zM553.7 104.7h1.55v1.55h-1.55zM542.1 112.4h1.55v1.55h-1.55zM549.8 111.5h1.55v1.55h-1.55zM649.4 98.9h1.55v1.55h-1.55zM609.2 137.5h1.55v1.55h-1.55zM585.9 145.8h1.55v1.55h-1.55zM578.0 152.4h1.55v1.55h-1.55zM563.9 165.3h1.55v1.55h-1.55zM556.9 169.4h1.55v1.55h-1.55zM563.5 172.1h1.55v1.55h-1.55zM551.1 174.2h1.55v1.55h-1.55zM539.2 200.1h1.55v1.55h-1.55zM482.8 156.8h1.55v1.55h-1.55zM485.5 154.8h1.55v1.55h-1.55zM496.2 148.1h1.55v1.55h-1.55zM493.6 153.5h1.55v1.55h-1.55zM500.2 149.4h1.55v1.55h-1.55zM504.3 144.1h1.55v1.55h-1.55zM484.2 162.2h1.55v1.55h-1.55zM488.9 160.8h1.55v1.55h-1.55zM490.9 150.8h1.55v1.55h-1.55zM546.4 112.8h1.55v1.55h-1.55zM521.4 126.2h1.55v1.55h-1.55zM525.0 129.3h1.55v1.55h-1.55zM518.7 130.7h1.55v1.55h-1.55zM514.2 131.6h1.55v1.55h-1.55zM507.1 140.5h1.55v1.55h-1.55zM509.8 138.7h1.55v1.55h-1.55zM494.6 145.0h1.55v1.55h-1.55zM491.0 156.6h1.55v1.55h-1.55zM495.5 154.8h1.55v1.55h-1.55zM502.6 148.6h1.55v1.55h-1.55z" fill="#000"/>
</g>
<rect x="65.5" y="403.5" width="250.0" height="199.29999999999995" fill="none" stroke="#000" stroke-width="1.35"/>
<line x1="56.00" y1="580.30" x2="65.50" y2="580.30" stroke="#000" stroke-width="1.35"/>
<line x1="56.00" y1="549.35" x2="65.50" y2="549.35" stroke="#000" stroke-width="1.35"/>
<line x1="56.00" y1="518.40" x2="65.50" y2="518.40" stroke="#000" stroke-width="1.35"/>
<line x1="56.00" y1="487.45" x2="65.50" y2="487.45" stroke="#000" stroke-width="1.35"/>
<line x1="56.00" y1="456.50" x2="65.50" y2="456.50" stroke="#000" stroke-width="1.35"/>
<line x1="56.00" y1="425.55" x2="65.50" y2="425.55" stroke="#000" stroke-width="1.35"/>
<text x="0" y="0" transform="translate(45.40,580.30) rotate(-90)" font-size="14" font-weight="normal" text-anchor="middle" font-family='"Liberation Sans", sans-serif' fill="#000">0.56</text>
<text x="0" y="0" transform="translate(45.40,518.40) rotate(-90)" font-size="14" font-weight="normal" text-anchor="middle" font-family='"Liberation Sans", sans-serif' fill="#000">0.60</text>
<text x="0" y="0" transform="translate(45.40,456.50) rotate(-90)" font-size="14" font-weight="normal" text-anchor="middle" font-family='"Liberation Sans", sans-serif' fill="#000">0.64</text>
<rect x="419.5" y="403.5" width="250.0" height="199.29999999999995" fill="none" stroke="#000" stroke-width="1.35"/>
<line x1="410.00" y1="580.30" x2="419.50" y2="580.30" stroke="#000" stroke-width="1.35"/>
<line x1="410.00" y1="549.35" x2="419.50" y2="549.35" stroke="#000" stroke-width="1.35"/>
<line x1="410.00" y1="518.40" x2="419.50" y2="518.40" stroke="#000" stroke-width="1.35"/>
<line x1="410.00" y1="487.45" x2="419.50" y2="487.45" stroke="#000" stroke-width="1.35"/>
<line x1="410.00" y1="456.50" x2="419.50" y2="456.50" stroke="#000" stroke-width="1.35"/>
<line x1="410.00" y1="425.55" x2="419.50" y2="425.55" stroke="#000" stroke-width="1.35"/>
<text x="0" y="0" transform="translate(400.30,580.30) rotate(-90)" font-size="14" font-weight="normal" text-anchor="middle" font-family='"Liberation Sans", sans-serif' fill="#000">0.56</text>
<text x="0" y="0" transform="translate(400.30,518.40) rotate(-90)" font-size="14" font-weight="normal" text-anchor="middle" font-family='"Liberation Sans", sans-serif' fill="#000">0.60</text>
<text x="0" y="0" transform="translate(400.30,456.50) rotate(-90)" font-size="14" font-weight="normal" text-anchor="middle" font-family='"Liberation Sans", sans-serif' fill="#000">0.64</text>
<line x1="68.60" y1="602.80" x2="68.60" y2="611.50" stroke="#000" stroke-width="1.35"/>
<text x="68.60" y="633.70" font-size="14" font-weight="normal" text-anchor="middle" font-family='"Liberation Sans", sans-serif' fill="#000">−200</text>
<line x1="129.50" y1="602.80" x2="129.50" y2="611.50" stroke="#000" stroke-width="1.35"/>
<text x="129.50" y="633.70" font-size="14" font-weight="normal" text-anchor="middle" font-family='"Liberation Sans", sans-serif' fill="#000">−100</text>
<line x1="190.40" y1="602.80" x2="190.40" y2="611.50" stroke="#000" stroke-width="1.35"/>
<text x="190.40" y="633.70" font-size="14" font-weight="normal" text-anchor="middle" font-family='"Liberation Sans", sans-serif' fill="#000">0</text>
<line x1="251.30" y1="602.80" x2="251.30" y2="611.50" stroke="#000" stroke-width="1.35"/>
<text x="251.30" y="633.70" font-size="14" font-weight="normal" text-anchor="middle" font-family='"Liberation Sans", sans-serif' fill="#000">100</text>
<line x1="312.20" y1="602.80" x2="312.20" y2="611.50" stroke="#000" stroke-width="1.35"/>
<text x="312.20" y="633.70" font-size="14" font-weight="normal" text-anchor="middle" font-family='"Liberation Sans", sans-serif' fill="#000">200</text>
<text x="190.20" y="667.00" font-size="14" font-weight="normal" text-anchor="middle" font-family='"Liberation Sans", sans-serif' fill="#000">Distance from motif (nt)</text>
<text x="0" y="0" transform="translate(14.60,503.00) rotate(-90)" font-size="14" font-weight="normal" text-anchor="middle" font-family='"Liberation Sans", sans-serif' fill="#000">AUC of ROC</text>
<text x="190.40" y="374.30" font-size="16.9" font-weight="bold" text-anchor="middle" font-family='"Liberation Sans", sans-serif' fill="#000" stroke="#000" stroke-width="0.3">Average of all TFs</text>
<text x="0" y="0" transform="translate(3.30,371.90) scale(1.03,0.92)" font-size="26.5" font-family='"Liberation Mono", monospace' fill="#000">(c)</text>
<line x1="428.80" y1="602.80" x2="428.80" y2="611.50" stroke="#000" stroke-width="1.35"/>
<text x="428.80" y="633.70" font-size="14" font-weight="normal" text-anchor="middle" font-family='"Liberation Sans", sans-serif' fill="#000">0</text>
<line x1="489.70" y1="602.80" x2="489.70" y2="611.50" stroke="#000" stroke-width="1.35"/>
<text x="489.70" y="633.70" font-size="14" font-weight="normal" text-anchor="middle" font-family='"Liberation Sans", sans-serif' fill="#000">50</text>
<line x1="550.60" y1="602.80" x2="550.60" y2="611.50" stroke="#000" stroke-width="1.35"/>
<text x="550.60" y="633.70" font-size="14" font-weight="normal" text-anchor="middle" font-family='"Liberation Sans", sans-serif' fill="#000">100</text>
<line x1="611.50" y1="602.80" x2="611.50" y2="611.50" stroke="#000" stroke-width="1.35"/>
<text x="611.50" y="633.70" font-size="14" font-weight="normal" text-anchor="middle" font-family='"Liberation Sans", sans-serif' fill="#000">150</text>
<text x="544.80" y="666.80" font-size="14" font-weight="normal" text-anchor="middle" font-family='"Liberation Sans", sans-serif' fill="#000">Abs. Distance from motif (nt)</text>
<text x="0" y="0" transform="translate(365.60,503.00) rotate(-90)" font-size="14" font-weight="normal" text-anchor="middle" font-family='"Liberation Sans", sans-serif' fill="#000">AUC of ROC</text>
<text x="544.90" y="374.30" font-size="16.9" font-weight="bold" text-anchor="middle" font-family='"Liberation Sans", sans-serif' fill="#000" stroke="#000" stroke-width="0.3">Average of all TFs</text>
<text x="0" y="0" transform="translate(387.50,381.00) scale(1.03,0.92)" font-size="26.5" font-family='"Liberation Mono", monospace' fill="#000">(d)</text>
<circle cx="76.4" cy="418.3" r="3.5" fill="#00EE00"/>
<text x="87.80" y="422.71" font-size="12.6" font-weight="normal" text-anchor="start" font-family='"Liberation Sans", sans-serif' fill="#000">DNAshape</text>
<circle cx="76.4" cy="433.4" r="3.5" fill="#EE0000"/>
<text x="87.80" y="437.81" font-size="12.6" font-weight="normal" text-anchor="start" font-family='"Liberation Sans", sans-serif' fill="#000">DynaSeq</text>
<circle cx="76.4" cy="448.7" r="3.5" fill="#000"/>
<text x="87.80" y="453.11" font-size="12.6" font-weight="normal" text-anchor="start" font-family='"Liberation Sans", sans-serif' fill="#000">GC content</text>
<circle cx="579.6" cy="419.8" r="4.0" fill="#00EE00"/>
<text x="592.60" y="424.70" font-size="14.0" font-weight="normal" text-anchor="start" font-family='"Liberation Sans", sans-serif' fill="#000">DNAshape</text>
<circle cx="579.6" cy="436.6" r="4.0" fill="#EE0000"/>
<text x="592.60" y="441.50" font-size="14.0" font-weight="normal" text-anchor="start" font-family='"Liberation Sans", sans-serif' fill="#000">DynaSeq</text>
<circle cx="579.6" cy="453.1" r="4.0" fill="#000"/>
<text x="592.60" y="458.00" font-size="14.0" font-weight="normal" text-anchor="start" font-family='"Liberation Sans", sans-serif' fill="#000">GC content</text>
<polyline points="74.6,590.0 76.1,583.1 77.6,586.0 79.1,583.9 80.6,583.1 82.1,582.5 83.6,579.3 84.3,581.2 85.1,580.7 86.6,586.9 88.1,583.5 89.6,583.4 91.1,584.2 92.6,584.4 94.1,584.6 94.9,585.8 95.6,586.8 97.1,585.5 98.6,586.7 100.1,584.9 101.6,584.9 103.1,586.5 103.5,585.1 104.6,581.2 106.1,578.1 106.4,578.3 107.6,577.5 109.1,571.3 110.6,568.0 111.2,568.3 112.1,568.0 113.6,572.4 115.1,577.6 116.0,579.4 116.6,577.8 118.1,576.2 119.6,569.3 120.9,572.2 121.1,569.9 122.6,571.0 124.1,575.6 125.6,578.2 126.6,578.0 127.1,576.9 128.6,577.3 130.1,576.2 131.6,577.1 132.4,575.7 133.1,574.7 134.6,575.4 136.1,573.2 137.6,571.8 138.2,573.6 139.1,574.2 140.6,574.3 142.1,574.7 143.6,577.2 145.1,574.8 145.9,579.5 146.6,579.2 148.1,576.5 149.6,578.7 151.1,577.3 152.6,579.6 154.1,576.0 155.5,577.4 155.6,579.5 157.1,580.1 158.6,575.8 160.1,578.0 161.6,579.0 163.1,577.8 164.6,580.7 165.2,577.1 166.1,578.5 167.6,575.8 169.1,578.2 170.6,575.4 171.9,574.2 172.1,572.8 173.6,580.0 175.1,581.5 176.6,584.3 177.7,586.8 178.1,584.8 179.6,579.9 181.1,576.1 182.5,572.8 182.6,575.6 184.1,572.9 185.6,575.1 187.1,576.4 188.3,577.9 188.6,578.5 190.1,576.8 191.6,576.9 193.1,579.8 194.6,582.1 195.0,581.7 196.1,581.2 197.6,580.7 199.1,581.8 200.3,581.3 200.6,582.1 202.1,577.3 203.6,575.7 203.9,574.9 205.1,574.2 206.6,571.8 208.1,572.9 209.2,570.1 209.6,570.5 211.1,567.4 211.9,570.5 212.6,568.7 214.1,567.3 214.6,562.6 215.6,567.5 217.1,567.9 218.6,565.4 220.1,566.3 221.6,567.1 221.7,568.3 223.1,568.2 224.6,569.1 226.1,565.3 227.6,568.1 229.1,568.8 230.6,572.4 231.4,571.9 232.1,568.9 233.2,559.7 233.6,560.5 235.1,558.2 236.6,559.7 237.7,557.6 238.1,556.5 239.6,557.0 241.1,559.0 242.6,558.2 244.1,558.6 244.8,560.8 245.6,563.6 247.1,560.5 248.6,560.6 250.1,560.2 251.0,560.3 251.6,561.8 253.1,560.0 254.6,556.7 256.1,557.7 257.6,558.0 259.0,558.6 259.1,556.3 260.6,555.5 262.1,554.2 263.4,551.2 263.6,551.9 265.1,553.5 266.6,556.2 267.9,559.5 268.1,558.0 269.6,559.7 271.1,562.2 272.6,563.3 274.1,566.0 275.6,558.4 277.1,559.6 278.6,555.2 280.1,556.0 281.6,556.9 283.0,557.2 283.1,557.3 284.6,558.1 286.1,562.0 287.6,561.6 288.3,562.7 289.1,563.8 290.6,561.8 292.1,565.1 293.6,563.3 293.7,564.8 295.1,562.9 296.6,563.4 298.1,565.2 299.6,566.9 301.1,566.2 302.6,568.5 304.1,568.9 304.3,571.2 305.6,568.5 306.1,570.9" fill="none" stroke="#000" stroke-width="1.7" stroke-linejoin="round" stroke-dasharray="3 3.8"/>
<polyline points="74.6,546.2 75.9,545.4 77.2,543.8 78.5,541.1 79.8,541.9 80.4,540.9 81.1,540.0 82.4,541.0 83.7,540.8 85.0,540.8 86.2,540.5 86.3,541.1 87.6,540.9 88.9,542.4 90.2,543.1 91.5,545.1 92.0,544.9 92.8,543.0 94.1,539.9 95.4,537.8 95.8,537.2 96.7,536.7 98.0,537.8 99.3,537.2 100.6,533.6 101.9,534.0 103.2,535.2 103.5,534.9 104.5,536.1 105.8,537.0 106.4,539.1 107.1,534.7 108.4,532.4 109.7,531.8 111.0,527.6 111.2,527.2 112.3,525.8 113.6,524.3 114.9,525.5 116.2,525.1 117.0,523.6 117.5,524.6 118.8,526.4 120.1,526.9 120.9,528.4 121.4,528.0 122.7,526.6 124.0,524.6 125.3,524.2 126.6,523.1 127.9,521.1 129.2,518.7 130.5,518.6 131.4,516.5 131.8,518.3 133.1,518.3 134.4,521.8 135.7,522.7 137.0,523.3 137.2,524.4 138.3,526.0 139.6,527.7 140.9,528.1 142.2,529.5 143.0,531.6 143.5,529.8 144.8,527.3 146.1,524.7 147.4,519.4 147.8,520.1 148.7,522.0 150.0,522.0 151.3,523.0 152.6,525.8 153.6,526.4 153.9,526.8 155.2,524.7 156.5,522.7 157.8,522.9 159.1,521.6 159.4,522.5 160.4,521.8 161.7,519.9 163.0,520.1 164.3,521.7 165.6,521.3 166.9,519.9 168.2,520.2 169.5,520.4 170.0,520.3 170.8,520.0 172.1,518.2 173.4,516.7 174.7,515.4 176.0,515.4 177.3,511.2 178.6,511.9 179.9,510.9 180.6,508.9 181.2,510.7 182.5,510.1 183.8,511.8 184.4,511.1 185.1,510.5 186.4,508.5 187.4,505.8 187.7,501.0 189.0,484.1 190.3,470.8 191.6,452.9 192.9,436.1 193.9,424.3 194.2,427.1 195.5,441.4 196.8,454.1 198.1,467.4 199.4,480.2 200.7,494.6 201.8,504.6 202.0,506.2 203.3,507.4 204.6,505.1 205.7,504.7 205.9,507.9 207.2,512.6 208.5,512.4 209.2,513.8 209.8,514.4 211.1,511.0 211.9,509.9 212.4,511.2 213.7,514.9 215.0,516.9 216.3,520.5 216.3,520.0 217.6,519.7 218.9,520.4 220.2,520.1 220.8,521.1 221.5,520.3 222.8,520.8 224.1,523.5 225.4,522.6 226.1,522.9 226.7,521.6 228.0,516.9 228.8,514.7 229.3,516.3 230.6,518.8 231.9,520.1 233.2,524.6 233.2,523.3 234.5,522.2 235.8,521.7 237.1,521.5 238.4,522.7 238.6,520.0 239.7,522.5 241.0,522.0 242.3,525.4 243.6,527.8 243.9,527.1 244.9,525.1 246.2,523.8 247.5,522.1 248.3,520.8 248.8,521.9 250.1,520.1 251.4,519.2 252.7,519.4 253.7,519.2 254.0,519.2 255.3,518.3 256.6,517.7 257.9,515.3 258.1,517.4 259.2,517.3 260.5,518.0 261.8,521.0 263.1,522.9 264.3,523.3 264.4,523.1 265.7,523.5 267.0,528.2 268.3,527.7 269.6,527.2 270.9,528.8 271.4,530.1 272.2,526.7 273.5,525.2 274.8,521.5 275.9,520.4 276.1,520.2 277.4,517.1 278.7,519.7 280.0,518.4 281.3,521.1 282.1,520.4 282.6,521.7 283.9,522.8 285.2,528.0 285.7,529.1 286.5,526.7 287.8,528.6 289.1,528.2 290.4,529.3 291.7,528.8 291.9,531.7 293.0,530.1 294.3,531.8 295.6,533.7 296.9,533.8 298.2,535.3 299.0,535.7 299.5,535.5 300.8,533.2 302.1,532.4 302.6,532.1 303.4,533.0 304.7,534.9 306.0,536.1 306.6,537.8" fill="none" stroke="#1ED81E" stroke-width="1.4" stroke-linejoin="round"/>
<polyline points="74.6,534.9 75.9,533.0 77.2,531.9 77.5,529.8 78.5,533.8 79.8,533.5 81.1,532.4 81.4,533.5 82.4,531.9 83.7,529.7 85.0,529.6 85.2,528.2 86.3,528.9 87.6,529.4 88.1,530.8 88.9,531.7 90.2,534.6 91.5,535.8 92.0,537.3 92.8,535.8 94.1,536.4 95.4,534.8 95.8,534.6 96.7,533.4 98.0,530.3 99.3,530.1 100.6,529.5 100.6,526.1 101.9,525.8 103.2,525.8 104.5,527.7 105.8,526.8 106.4,527.6 107.1,526.9 108.4,525.8 109.7,525.3 111.0,524.2 111.2,525.1 112.3,522.1 113.6,521.4 114.9,520.7 116.0,520.9 116.2,518.7 117.5,518.7 118.8,519.4 120.1,521.1 121.4,520.3 122.7,522.0 122.8,519.1 124.0,521.0 125.3,520.0 126.6,516.8 127.9,517.3 129.2,517.4 130.5,515.4 131.4,515.6 131.8,517.2 133.1,516.5 134.4,517.1 135.7,517.9 137.0,520.3 137.2,519.7 138.3,516.5 139.2,514.0 139.6,515.6 140.9,517.2 142.0,519.4 142.2,518.4 143.5,520.0 144.8,517.4 146.1,517.1 146.9,514.7 147.4,514.5 148.7,516.7 150.0,517.3 151.3,517.4 151.7,518.1 152.6,519.8 153.9,517.4 155.2,516.4 156.5,514.8 156.5,514.4 157.8,514.6 159.1,512.6 160.4,510.8 161.7,510.2 163.0,508.4 164.3,508.2 165.6,507.9 166.1,505.6 166.9,509.1 168.2,509.4 169.5,512.4 170.0,512.3 170.8,511.9 172.1,510.6 173.4,508.5 174.7,506.7 176.0,505.1 177.3,503.4 178.6,501.1 178.6,502.3 179.9,502.4 181.2,502.3 182.5,501.6 183.5,502.8 183.8,500.8 185.1,499.8 186.4,501.5 187.0,498.8 187.7,491.5 189.0,473.0 190.3,457.4 191.6,438.6 192.9,424.4 193.3,418.3 194.2,415.2 194.8,416.0 195.5,417.3 196.1,418.4 196.8,428.2 198.1,448.3 199.4,467.6 200.7,487.8 201.6,501.3 202.0,500.3 203.0,501.1 203.3,501.2 204.6,500.6 205.9,501.5 206.6,502.0 207.2,503.6 208.5,506.1 209.2,505.3 209.8,506.8 211.1,506.5 212.4,509.5 213.7,508.2 214.6,509.2 215.0,508.2 216.3,509.4 217.6,511.4 218.9,512.0 220.2,513.8 220.8,512.6 221.5,514.1 222.8,511.6 224.1,513.0 225.4,510.2 226.7,510.4 228.0,507.2 228.8,508.2 229.3,507.6 230.6,509.5 231.9,511.6 233.2,512.8 233.2,513.3 234.5,513.4 235.8,513.0 236.8,512.1 237.1,511.3 238.4,513.1 239.7,515.0 241.0,514.6 241.2,517.4 242.3,515.8 243.6,515.0 244.9,515.3 245.7,514.6 246.2,514.3 247.5,513.5 248.8,515.0 250.1,515.3 251.4,514.5 252.7,516.5 253.7,516.3 254.0,513.7 255.3,514.3 256.6,511.7 257.9,512.5 258.1,512.0 259.2,511.6 260.5,513.4 261.8,515.8 262.6,516.5 263.1,518.4 264.4,518.5 265.7,518.3 267.0,519.9 268.3,518.3 269.6,521.2 270.9,522.5 271.4,521.8 272.2,521.0 273.5,521.5 274.8,522.1 276.1,519.8 276.8,518.3 277.4,520.5 278.7,517.3 280.0,519.2 281.3,518.0 282.1,519.2 282.6,518.3 283.9,521.8 285.2,522.5 285.7,521.3 286.5,521.6 287.8,523.8 289.1,526.0 290.4,525.7 291.7,526.3 291.9,526.2 293.0,526.3 294.3,525.2 295.6,524.2 296.9,522.2 297.2,524.0 298.2,524.9 299.5,523.5 300.8,527.8 301.7,527.1 302.1,526.2 303.4,525.7 304.7,528.8 306.0,529.5 306.1,528.6" fill="none" stroke="#E01010" stroke-width="1.4" stroke-linejoin="round"/>
<polyline points="428.8,579.7 430.3,580.5 431.8,575.3 433.3,578.2 434.8,579.6 436.3,580.0 437.8,579.2 439.3,580.2 440.8,578.7 441.5,579.1 442.3,578.7 443.8,577.3 445.3,577.8 446.8,579.4 448.3,578.4 449.8,580.8 451.3,580.9 452.8,581.7 453.4,579.6 454.3,580.6 455.8,576.7 457.3,575.7 458.8,575.7 460.3,574.8 461.8,571.5 463.0,570.4 463.3,572.9 464.8,571.5 466.3,574.0 467.8,573.0 469.3,572.9 470.8,572.8 472.3,573.6 473.8,572.3 474.9,573.8 475.3,571.8 476.8,572.0 478.3,571.3 479.8,572.6 481.3,571.7 482.8,570.5 484.3,573.7 484.4,570.9 485.8,571.5 487.3,572.5 488.8,574.5 490.3,572.5 491.8,573.9 493.3,573.6 494.0,571.8 494.8,574.6 496.3,574.8 497.8,573.3 499.3,573.6 500.8,571.8 502.3,571.8 503.8,573.1 505.3,574.4 505.9,573.0 506.8,573.7 508.3,574.0 509.8,572.5 511.3,572.6 512.8,573.1 513.1,569.8 514.3,571.4 515.8,567.2 517.3,569.0 518.8,567.7 520.2,565.8 520.3,565.2 521.8,566.2 523.3,565.6 524.8,566.0 526.3,564.6 527.8,566.1 529.3,564.0 530.8,564.7 532.3,564.3 533.1,566.2 533.8,563.1 535.3,564.9 536.8,567.4 538.3,565.6 539.8,565.4 541.3,567.8 542.4,567.5 542.8,569.0 544.3,567.6 545.8,569.7 547.3,571.0 548.7,572.1 548.8,569.5 550.3,571.8 551.8,568.3 553.3,566.8 554.8,566.7 556.3,567.3 557.0,566.4 557.8,567.1 559.3,566.7 560.8,566.0 562.3,564.9 563.8,566.9 565.3,561.6 566.8,561.7 568.3,562.7 569.4,561.5 569.8,560.1 571.3,562.9 572.8,563.7 574.3,562.3 575.8,567.0 577.3,568.2 577.7,568.3 578.8,565.7 580.3,565.9 581.8,563.7 583.3,564.7 584.8,563.0 585.0,564.2 586.3,563.8 587.8,566.0 589.3,566.3 590.2,567.2 590.8,564.4 592.3,565.6 593.8,569.8 595.3,570.1 595.4,571.4 596.8,571.5 598.3,571.6 599.8,572.8 601.3,572.6 601.6,572.6 602.8,570.2 604.3,572.4 605.8,569.6 606.8,570.1 607.3,569.2 608.8,570.3 610.3,569.0 611.8,569.1 613.3,569.0 614.8,567.9 615.1,568.1 616.3,569.2 617.8,570.0 619.3,569.7 620.8,574.5 622.3,571.3 623.8,572.8 625.3,576.9 625.4,573.2 626.8,574.7 628.3,574.3 629.8,573.0 631.3,571.2 632.8,570.8 633.7,572.5 634.3,573.1 635.8,570.2 637.3,573.3 638.8,572.5 640.3,574.6 641.8,574.0 643.1,573.0 643.3,573.6 644.8,575.1 646.3,577.5 647.8,580.5 648.3,577.5 649.3,577.4 650.8,578.4 652.3,577.9 653.8,578.9 655.3,578.9 656.8,578.7 658.3,578.0 659.8,579.4 660.3,580.4" fill="none" stroke="#000" stroke-width="1.7" stroke-linejoin="round" stroke-dasharray="3 3.8"/>
<polyline points="428.8,461.0 430.1,462.4 431.4,464.8 431.9,464.4 432.7,462.3 434.0,463.2 435.3,462.3 435.5,462.8 436.6,462.8 437.9,466.0 439.1,467.6 439.2,469.0 440.5,472.9 441.8,477.9 443.1,481.1 443.9,487.1 444.4,485.5 445.7,492.6 447.0,496.1 448.3,500.2 448.6,501.5 449.6,502.7 450.9,505.2 452.2,506.4 453.4,509.2 453.5,506.6 454.8,508.7 456.1,508.6 457.4,510.6 458.7,509.0 460.0,511.0 460.6,511.8 461.3,511.1 462.6,514.4 463.9,515.1 465.2,517.1 465.3,517.2 466.5,515.4 467.8,515.3 469.1,515.5 470.4,516.0 471.3,515.9 471.7,514.9 473.0,515.7 474.3,516.3 475.6,517.2 476.9,518.2 478.2,519.0 479.5,521.5 479.7,519.6 480.8,520.0 482.1,520.8 483.4,520.0 484.7,520.7 486.0,521.2 487.3,522.1 488.6,520.7 489.9,523.1 491.2,521.9 491.6,522.4 492.5,523.1 493.8,523.1 495.1,523.7 496.4,523.1 497.7,523.2 499.0,523.6 499.9,522.7 500.3,524.3 501.6,522.1 502.9,521.0 504.2,523.1 505.5,520.7 506.8,519.2 507.1,521.5 508.1,520.1 509.4,521.7 510.7,520.7 512.0,521.7 513.3,521.0 514.6,521.3 515.9,522.6 517.2,523.8 518.5,525.0 519.8,526.8 521.1,524.5 522.4,526.6 522.6,525.4 523.7,525.5 525.0,524.2 526.3,523.9 527.6,524.1 528.9,523.5 530.0,524.2 530.2,523.7 531.5,525.7 532.8,525.3 534.1,525.7 535.4,526.9 536.2,526.7 536.7,525.6 538.0,523.7 539.3,521.9 540.6,521.0 541.4,519.6 541.9,519.4 543.2,519.9 544.5,519.0 545.8,520.1 547.1,518.7 548.4,521.1 548.7,520.2 549.7,520.9 551.0,522.1 552.3,522.5 553.6,523.1 554.9,525.2 554.9,524.3 556.2,523.2 557.5,523.9 558.8,521.9 560.1,524.3 561.4,522.5 562.7,522.4 563.2,524.0 564.0,523.9 565.3,522.3 566.6,522.7 567.9,523.1 569.2,523.5 570.5,522.1 571.5,522.3 571.8,523.3 573.1,522.8 574.4,523.5 575.7,523.7 577.0,522.6 578.3,523.2 579.6,522.0 579.8,524.0 580.9,525.5 582.2,523.9 583.5,526.1 584.8,526.3 586.1,525.8 587.4,526.1 588.1,526.4 588.7,525.8 590.0,526.8 591.3,527.5 592.6,528.5 593.9,529.1 595.2,528.4 596.4,530.1 596.5,528.7 597.8,528.7 599.1,528.7 600.4,527.9 601.7,527.3 603.0,527.2 604.3,526.0 604.7,525.8 605.6,526.2 606.9,527.3 608.2,526.6 609.5,528.4 610.8,527.2 612.1,524.8 613.0,526.9 613.4,529.1 614.7,529.5 616.0,530.8 617.1,531.8 617.3,533.7 618.6,534.1 619.9,534.5 621.2,534.9 622.5,536.4 623.8,536.5 625.1,535.6 625.4,537.3 626.4,536.6 627.7,536.0 629.0,536.4 630.3,535.5 631.6,532.8 632.9,536.0 633.7,535.4 634.2,534.8 635.5,535.2 636.8,536.3 638.1,535.8 639.4,537.7 640.7,538.0 642.0,538.5 642.0,538.1 643.3,537.9 644.6,539.0 645.9,538.9 647.2,537.9 648.5,537.1 649.8,536.1 650.3,537.3 651.1,538.3 652.4,536.3 653.7,539.0 655.0,536.9 656.3,538.9 657.6,540.0 658.9,539.1 660.2,539.5 660.3,540.9" fill="none" stroke="#1ED81E" stroke-width="1.4" stroke-linejoin="round"/>
<polyline points="428.8,450.6 430.1,451.7 431.4,454.0 431.9,455.1 432.7,455.9 434.0,455.3 435.3,455.0 435.5,454.9 436.6,456.5 437.9,457.6 439.1,456.9 439.2,456.0 440.5,459.7 441.8,465.2 442.7,466.5 443.1,466.7 444.4,474.0 445.7,479.0 447.0,485.4 447.4,487.3 448.3,489.5 449.6,494.0 450.9,497.0 451.0,496.8 452.2,499.1 453.5,501.0 454.8,500.7 455.8,503.0 456.1,502.6 457.4,503.9 458.7,503.6 460.0,505.3 461.3,505.9 462.6,506.4 463.0,506.0 463.9,506.9 465.2,507.1 466.5,507.5 467.7,509.4 467.8,508.3 469.1,510.0 470.4,509.4 471.7,507.1 473.0,508.8 474.3,507.5 475.6,508.2 476.9,508.1 477.3,506.4 478.2,508.3 479.5,508.9 480.8,510.5 482.1,509.5 483.4,511.7 484.4,510.7 484.7,511.4 486.0,511.5 487.3,513.7 488.6,513.5 489.9,515.4 491.2,514.4 491.6,514.7 492.5,514.6 493.8,513.3 495.1,513.6 496.4,514.6 497.7,513.1 499.0,513.4 500.3,513.1 501.6,513.5 502.9,512.6 503.5,512.7 504.2,513.0 505.5,512.9 506.8,512.1 508.1,513.5 509.4,511.8 510.7,511.8 510.7,511.8 512.0,513.9 513.3,513.2 514.6,513.0 515.9,513.2 517.2,514.8 518.5,513.9 519.8,514.1 520.2,515.7 521.1,514.4 522.4,515.3 523.7,515.8 525.0,515.6 526.3,516.2 527.4,517.5 527.6,515.9 528.9,515.1 530.0,514.4 530.2,515.8 531.5,515.8 532.8,516.4 534.1,516.0 535.4,516.1 536.2,516.0 536.7,516.1 538.0,516.4 539.3,515.7 540.6,515.8 541.9,517.0 543.2,515.5 544.5,513.6 544.5,516.3 545.8,515.4 547.1,514.7 548.4,516.4 549.7,516.0 551.0,515.7 552.3,516.0 552.8,515.8 553.6,516.6 554.9,517.3 556.2,516.1 557.5,516.5 558.8,517.6 560.1,515.0 561.1,516.1 561.4,515.7 562.7,515.4 564.0,515.7 565.3,516.7 566.6,517.4 567.9,516.8 569.2,517.6 570.5,518.4 571.5,518.2 571.8,518.6 573.1,517.9 574.4,517.6 575.7,518.3 576.7,517.1 577.0,517.0 578.3,518.9 579.6,519.0 580.9,520.9 581.9,522.8 582.2,522.7 583.5,523.6 584.8,522.5 586.1,521.4 587.4,524.3 588.7,523.7 590.0,522.1 591.3,524.2 592.2,523.2 592.6,521.7 593.9,522.6 595.2,522.4 596.5,523.9 597.8,521.8 599.1,522.1 599.5,522.0 600.4,522.0 601.7,521.7 603.0,522.7 604.3,523.5 605.6,523.2 606.9,522.1 608.2,522.0 609.5,523.2 610.8,522.6 610.9,522.7 612.1,522.6 613.4,526.3 614.7,526.3 616.0,525.6 617.3,527.9 618.6,529.1 619.2,526.5 619.9,528.0 621.2,528.3 622.5,529.2 623.8,528.7 625.1,528.8 626.4,529.0 627.7,530.7 629.0,531.1 629.6,529.0 630.3,528.4 631.6,530.8 632.9,527.4 634.2,527.2 635.5,527.2 636.8,527.1 637.9,527.1 638.1,526.7 639.4,526.0 640.7,527.5 642.0,527.7 643.3,529.4 644.6,528.3 645.9,527.6 647.2,528.2 648.3,530.6 648.5,529.0 649.8,528.0 651.1,529.5 652.4,530.3 653.7,531.5 655.0,530.0 656.3,531.6 657.6,532.0 658.9,531.0 660.2,531.7 660.3,533.3" fill="none" stroke="#E01010" stroke-width="1.4" stroke-linejoin="round"/>
</svg></body></html>
